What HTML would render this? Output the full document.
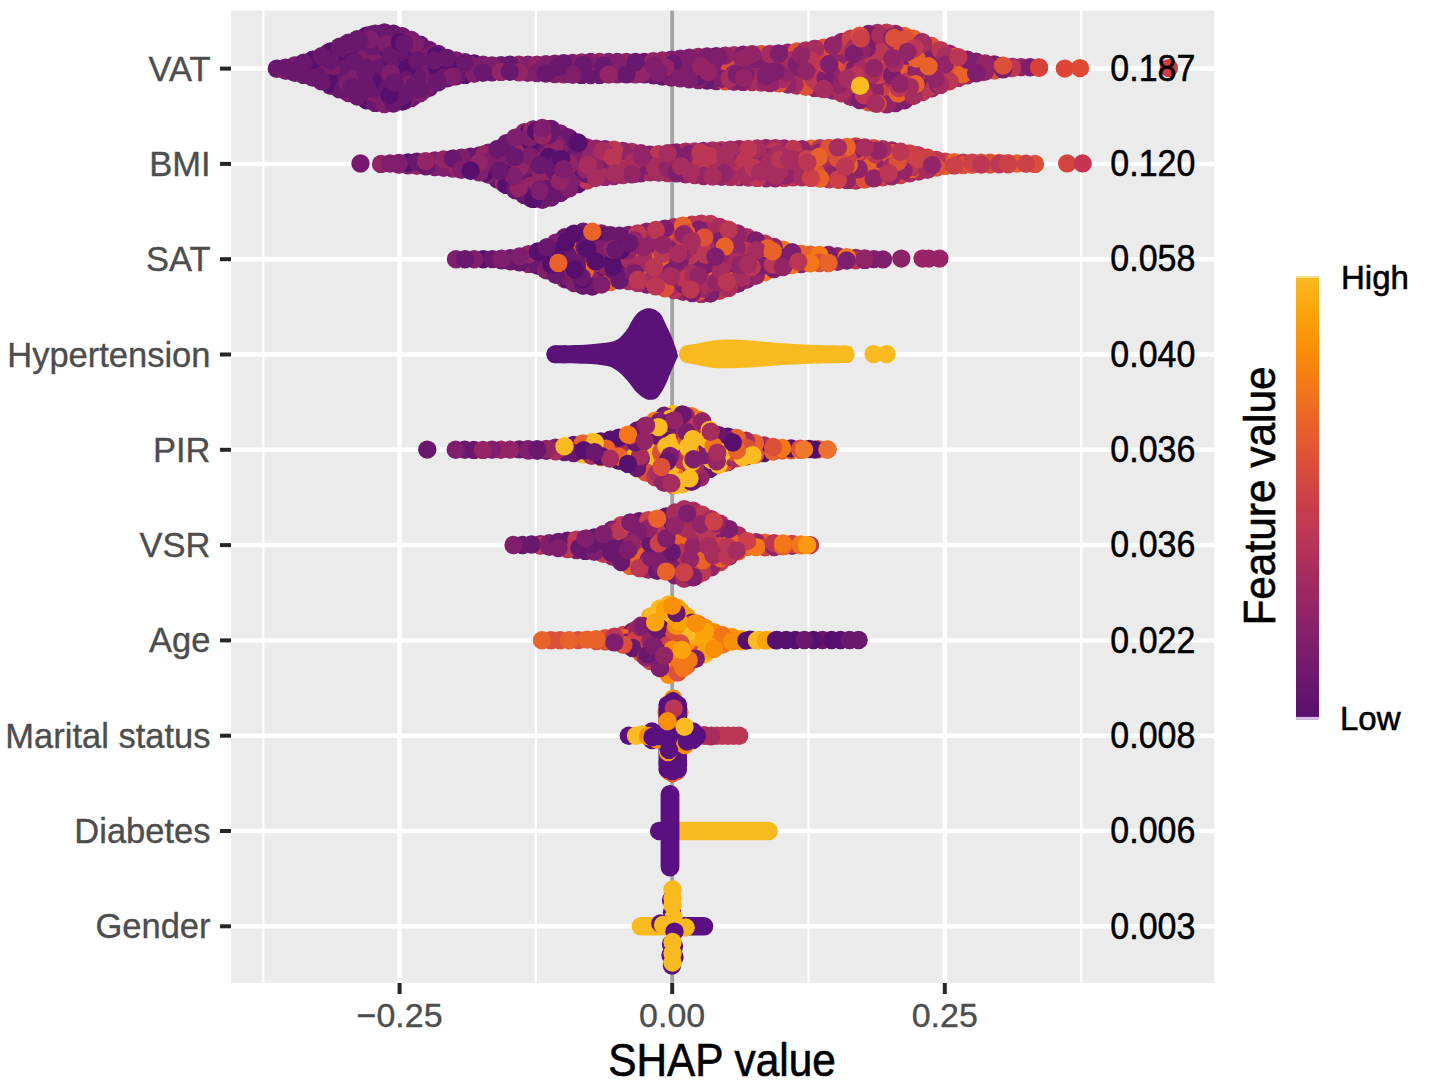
<!DOCTYPE html><html><head><meta charset="utf-8"><style>
html,body{margin:0;padding:0;background:#fff}
svg{display:block}
text{font-family:"Liberation Sans",sans-serif}
.yl{font-size:34.5px;fill:#4D4D4D;text-anchor:end;stroke:#4D4D4D;stroke-width:0.35px}
.vl{font-size:34px;fill:#000;stroke:#000;stroke-width:0.5px}
.xl{font-size:34px;fill:#4D4D4D;text-anchor:middle;stroke:#4D4D4D;stroke-width:0.35px}
.lg{font-size:33px;fill:#000;stroke:#000;stroke-width:0.6px}
.tt{font-size:42.4px;fill:#000;stroke:#000;stroke-width:0.6px}
.c0{fill:#932567}.c1{fill:#6A176E}.c2{fill:#7E1E6C}.c3{fill:#A72D5F}.c4{fill:#570F6D}.c5{fill:#DC5039}.c6{fill:#E9622A}.c7{fill:#BB3754}.c8{fill:#CC4148}.c9{fill:#DE4537}.c10{fill:#E04A35}.c11{fill:#D8403A}.c12{fill:#F9BC21}.c13{fill:#D63A45}.c14{fill:#76196E}.c15{fill:#D5433F}.c16{fill:#C93352}.c17{fill:#F37719}.c18{fill:#8B2369}.c19{fill:#9A2368}.c20{fill:#97246A}.c21{fill:#F9BB21}.c22{fill:#F0782A}.c23{fill:#EE7030}.c24{fill:#F98E08}.c25{fill:#F99A12}.c26{fill:#FBA40A}.c27{fill:#F9BA20}.c28{fill:#5A1178}.c29{fill:#5A1080}
</style></head><body>
<svg width="1429" height="1090" viewBox="0 0 1429 1090">
<rect width="1429" height="1090" fill="#fff"/>
<rect x="231.0" y="10.7" width="983.3" height="972.2" fill="#EBEBEB"/>
<line x1="263.3" y1="10.7" x2="263.3" y2="982.9" stroke="#fff" stroke-width="2.2"/><line x1="535.9" y1="10.7" x2="535.9" y2="982.9" stroke="#fff" stroke-width="2.2"/><line x1="808.5" y1="10.7" x2="808.5" y2="982.9" stroke="#fff" stroke-width="2.2"/><line x1="1081.1" y1="10.7" x2="1081.1" y2="982.9" stroke="#fff" stroke-width="2.2"/><line x1="399.6" y1="10.7" x2="399.6" y2="982.9" stroke="#fff" stroke-width="4.5"/><line x1="672.2" y1="10.7" x2="672.2" y2="982.9" stroke="#fff" stroke-width="4.5"/><line x1="944.8" y1="10.7" x2="944.8" y2="982.9" stroke="#fff" stroke-width="4.5"/><line x1="231.0" y1="68.6" x2="1214.3" y2="68.6" stroke="#fff" stroke-width="4.5"/><line x1="231.0" y1="163.9" x2="1214.3" y2="163.9" stroke="#fff" stroke-width="4.5"/><line x1="231.0" y1="259.2" x2="1214.3" y2="259.2" stroke="#fff" stroke-width="4.5"/><line x1="231.0" y1="354.5" x2="1214.3" y2="354.5" stroke="#fff" stroke-width="4.5"/><line x1="231.0" y1="449.8" x2="1214.3" y2="449.8" stroke="#fff" stroke-width="4.5"/><line x1="231.0" y1="545.1" x2="1214.3" y2="545.1" stroke="#fff" stroke-width="4.5"/><line x1="231.0" y1="640.4" x2="1214.3" y2="640.4" stroke="#fff" stroke-width="4.5"/><line x1="231.0" y1="735.7" x2="1214.3" y2="735.7" stroke="#fff" stroke-width="4.5"/><line x1="231.0" y1="831.0" x2="1214.3" y2="831.0" stroke="#fff" stroke-width="4.5"/><line x1="231.0" y1="926.3" x2="1214.3" y2="926.3" stroke="#fff" stroke-width="4.5"/>
<line x1="672.2" y1="10.7" x2="672.2" y2="982.9" stroke="#A3A3A3" stroke-width="4"/>
<path fill="#7A1D6E" d="M276.8 62.0 L289.5 60.4 L302.2 56.5 L314.9 52.2 L327.6 46.5 L340.3 39.8 L353.0 34.2 L365.7 29.2 L378.4 26.3 L391.1 26.5 L403.8 30.2 L416.5 35.8 L429.2 43.3 L441.9 49.0 L454.6 53.4 L467.4 55.8 L480.1 57.6 L492.8 58.8 L505.5 58.1 L518.2 58.1 L530.9 58.1 L543.6 57.6 L556.3 57.0 L569.0 56.4 L581.7 55.7 L594.4 55.3 L607.1 55.3 L619.8 55.3 L632.5 55.3 L645.2 55.3 L657.9 54.2 L670.6 52.9 L683.3 51.7 L696.0 50.4 L708.7 49.8 L721.4 49.1 L734.1 48.5 L746.8 47.9 L759.5 47.4 L772.2 47.1 L784.9 46.3 L797.6 44.7 L810.3 43.0 L823.0 41.0 L835.7 37.6 L848.5 32.7 L861.2 28.8 L873.9 26.5 L886.6 26.0 L899.3 27.9 L912.0 31.6 L924.7 36.5 L937.4 42.0 L950.1 47.3 L962.8 51.7 L975.5 55.0 L988.2 57.1 L1000.9 58.5 L1013.6 60.2 L1026.3 60.5 L1039.0 61.1 L1039.0 74.6 L1026.3 74.6 L1013.6 74.8 L1000.9 76.5 L988.2 77.9 L975.5 80.0 L962.8 83.3 L950.1 87.7 L937.4 92.8 L924.7 97.8 L912.0 103.1 L899.3 109.2 L886.6 111.1 L873.9 110.0 L861.2 107.1 L848.5 102.5 L835.7 98.2 L823.0 95.6 L810.3 94.0 L797.6 92.4 L784.9 90.8 L772.2 89.8 L759.5 89.2 L746.8 88.7 L734.1 88.4 L721.4 88.0 L708.7 87.3 L696.0 86.7 L683.3 85.4 L670.6 84.2 L657.9 82.6 L645.2 81.1 L632.5 81.1 L619.8 81.1 L607.1 81.4 L594.4 81.7 L581.7 81.6 L569.0 81.3 L556.3 80.8 L543.6 80.2 L530.9 79.5 L518.2 78.9 L505.5 78.3 L492.8 79.0 L480.1 79.6 L467.4 81.3 L454.6 83.2 L441.9 86.7 L429.2 94.4 L416.5 102.0 L403.8 107.6 L391.1 110.6 L378.4 110.0 L365.7 106.6 L353.0 101.5 L340.3 96.4 L327.6 91.1 L314.9 85.0 L302.2 81.2 L289.5 78.3 L276.8 75.5 Z"/><path fill="#932567" d="M381.0 157.3 L391.9 156.7 L402.8 156.1 L413.7 155.3 L424.6 154.5 L435.5 153.7 L446.4 152.6 L457.3 151.5 L468.2 150.2 L479.1 148.7 L490.0 145.4 L500.9 140.1 L511.8 133.0 L522.7 126.5 L533.6 122.7 L544.5 121.4 L555.4 124.4 L566.3 129.8 L577.2 135.3 L588.1 141.4 L599.0 142.2 L609.9 142.6 L620.8 143.9 L631.7 145.3 L642.6 146.8 L653.5 148.1 L664.4 147.0 L675.3 145.9 L686.2 145.1 L697.1 144.5 L708.0 144.0 L718.9 143.5 L729.8 143.0 L740.7 142.6 L751.6 142.1 L762.5 141.6 L773.4 141.3 L784.3 141.8 L795.2 142.4 L806.1 142.3 L817.0 141.8 L827.9 141.2 L838.8 140.7 L849.7 140.1 L860.6 140.3 L871.5 141.3 L882.4 142.4 L893.3 143.9 L904.2 145.7 L915.1 148.0 L926.0 150.7 L936.9 153.4 L947.8 155.1 L958.7 155.8 L969.6 156.1 L980.5 156.1 L991.4 156.1 L1002.3 156.4 L1013.2 156.7 L1024.1 156.9 L1035.0 157.2 L1035.0 170.6 L1024.1 170.7 L1013.2 170.9 L1002.3 171.0 L991.4 171.1 L980.5 171.3 L969.6 171.4 L958.7 172.0 L947.8 172.5 L936.9 174.1 L926.0 176.7 L915.1 178.9 L904.2 181.1 L893.3 182.7 L882.4 184.0 L871.5 185.4 L860.6 186.7 L849.7 187.0 L838.8 186.4 L827.9 185.9 L817.0 185.1 L806.1 184.3 L795.2 184.0 L784.3 184.6 L773.4 185.1 L762.5 184.8 L751.6 184.3 L740.7 183.8 L729.8 183.6 L718.9 183.3 L708.0 183.1 L697.1 182.0 L686.2 180.9 L675.3 180.1 L664.4 179.5 L653.5 179.0 L642.6 179.8 L631.7 180.9 L620.8 182.0 L609.9 183.1 L599.0 184.2 L588.1 186.9 L577.2 191.1 L566.3 196.6 L555.4 202.0 L544.5 206.8 L533.6 205.7 L522.7 200.9 L511.8 194.8 L500.9 188.2 L490.0 181.7 L479.1 179.0 L468.2 177.2 L457.3 175.9 L446.4 174.6 L435.5 173.8 L424.6 172.9 L413.7 172.3 L402.8 171.7 L391.9 171.1 L381.0 170.5 Z"/><path fill="#7E1E6C" d="M456.0 253.0 L463.1 252.9 L470.2 252.8 L477.4 252.6 L484.5 252.5 L491.6 252.4 L498.7 252.2 L505.8 251.8 L512.9 251.0 L520.0 249.6 L527.2 247.8 L534.3 245.7 L541.4 243.1 L548.5 239.9 L555.6 236.1 L562.8 231.8 L569.9 228.5 L577.0 226.1 L584.1 225.0 L591.2 225.0 L598.3 226.1 L605.5 227.9 L612.6 228.7 L619.7 229.1 L626.8 228.5 L633.9 227.3 L641.0 226.2 L648.1 224.8 L655.3 223.4 L662.4 222.2 L669.5 221.2 L676.6 220.1 L683.7 219.0 L690.9 218.1 L698.0 217.3 L705.1 216.4 L712.2 217.9 L719.3 220.1 L726.4 222.4 L733.5 225.1 L740.7 228.0 L747.8 230.8 L754.9 233.5 L762.0 236.1 L769.1 238.7 L776.2 240.9 L783.4 243.0 L790.5 245.1 L797.6 246.6 L804.7 248.0 L811.8 248.1 L819.0 248.2 L826.1 248.2 L833.2 248.7 L840.3 249.8 L847.4 250.7 L854.5 251.1 L861.6 251.6 L868.8 252.1 L875.9 252.6 L883.0 252.7 L883.0 266.2 L875.9 266.3 L868.8 266.5 L861.6 266.7 L854.5 267.0 L847.4 267.2 L840.3 268.1 L833.2 269.2 L826.1 269.7 L819.0 269.7 L811.8 269.7 L804.7 270.4 L797.6 271.1 L790.5 271.9 L783.4 273.6 L776.2 275.2 L769.1 277.0 L762.0 279.9 L754.9 282.7 L747.8 285.7 L740.7 289.0 L733.5 292.3 L726.4 295.4 L719.3 297.5 L712.2 299.6 L705.1 301.0 L698.0 300.3 L690.9 299.6 L683.7 298.6 L676.6 297.2 L669.5 295.8 L662.4 294.4 L655.3 293.0 L648.1 291.6 L641.0 290.2 L633.9 288.8 L626.8 287.4 L619.7 287.0 L612.6 288.4 L605.5 290.1 L598.3 292.2 L591.2 293.2 L584.1 292.5 L577.0 290.9 L569.9 288.0 L562.8 284.9 L555.6 281.3 L548.5 277.8 L541.4 274.2 L534.3 271.8 L527.2 270.3 L520.0 269.2 L512.9 268.3 L505.8 267.4 L498.7 266.5 L491.6 266.1 L484.5 266.0 L477.4 265.9 L470.2 265.7 L463.1 265.6 L456.0 265.5 Z"/><path fill="#7E1E6C" d="M455.7 443.4 L461.9 443.3 L468.1 443.3 L474.3 443.2 L480.5 443.2 L486.7 443.1 L492.9 443.1 L499.1 443.0 L505.3 443.0 L511.5 442.9 L517.7 442.8 L523.9 442.7 L530.1 442.6 L536.3 442.5 L542.5 442.4 L548.6 441.9 L554.8 441.0 L561.0 440.0 L567.2 439.1 L573.4 438.2 L579.6 437.3 L585.8 436.3 L592.0 435.6 L598.2 435.0 L604.4 434.2 L610.6 433.0 L616.8 431.5 L623.0 429.9 L629.2 427.4 L635.4 424.6 L641.6 421.4 L647.8 418.0 L654.0 414.6 L660.2 411.2 L666.4 408.0 L672.6 407.7 L678.8 407.4 L685.0 408.3 L691.2 409.5 L697.4 411.8 L703.6 414.9 L709.8 423.5 L716.0 428.1 L722.2 429.0 L728.4 430.0 L734.5 430.9 L740.7 432.5 L746.9 434.4 L753.1 436.1 L759.3 437.6 L765.5 439.0 L771.7 440.0 L777.9 440.9 L784.1 441.4 L790.3 441.8 L796.5 442.0 L802.7 442.1 L808.9 442.3 L815.1 442.4 L821.3 442.6 L827.5 442.8 L827.5 456.3 L821.3 456.3 L815.1 456.2 L808.9 456.2 L802.7 456.5 L796.5 456.7 L790.3 457.0 L784.1 457.3 L777.9 457.5 L771.7 458.5 L765.5 459.5 L759.3 460.6 L753.1 461.9 L746.9 463.1 L740.7 464.4 L734.5 465.9 L728.4 468.4 L722.2 470.8 L716.0 471.7 L709.8 475.4 L703.6 482.8 L697.4 485.7 L691.2 488.6 L685.0 490.7 L678.8 491.3 L672.6 491.8 L666.4 490.6 L660.2 487.0 L654.0 483.3 L647.8 480.0 L641.6 476.9 L635.4 473.9 L629.2 471.1 L623.0 468.6 L616.8 467.0 L610.6 465.5 L604.4 464.3 L598.2 463.3 L592.0 462.4 L585.8 461.5 L579.6 460.5 L573.4 459.6 L567.2 459.0 L561.0 458.4 L554.8 458.0 L548.6 457.7 L542.5 457.4 L536.3 457.4 L530.1 457.3 L523.9 457.2 L517.7 457.1 L511.5 457.0 L505.3 456.9 L499.1 456.8 L492.9 456.7 L486.7 456.6 L480.5 456.6 L474.3 456.5 L468.1 456.4 L461.9 456.3 L455.7 456.2 Z"/><path fill="#7E1E6C" d="M513.5 538.7 L518.4 538.5 L523.4 538.2 L528.3 538.0 L533.3 537.7 L538.2 537.5 L543.1 537.2 L548.1 536.5 L553.0 535.9 L558.0 535.3 L562.9 534.7 L567.9 534.1 L572.8 533.5 L577.7 532.8 L582.7 532.2 L587.6 531.6 L592.6 531.0 L597.5 530.4 L602.5 528.1 L607.4 525.6 L612.3 523.1 L617.3 520.7 L622.2 518.2 L627.2 516.2 L632.1 515.5 L637.0 514.9 L642.0 514.3 L646.9 513.7 L651.9 513.1 L656.8 512.1 L661.8 510.9 L666.7 509.6 L671.6 507.5 L676.6 505.0 L681.5 502.5 L686.5 502.7 L691.4 503.2 L696.3 505.4 L701.3 507.7 L706.2 510.1 L711.2 512.6 L716.1 515.1 L721.0 517.5 L726.0 520.2 L730.9 523.7 L735.9 527.1 L740.8 530.3 L745.8 533.6 L750.7 534.8 L755.6 535.3 L760.6 535.7 L765.5 535.9 L770.5 536.2 L775.4 536.4 L780.4 536.7 L785.3 536.9 L790.2 537.2 L795.2 537.4 L800.1 537.6 L805.1 538.0 L810.0 538.4 L810.0 551.8 L805.1 552.0 L800.1 552.2 L795.2 552.4 L790.2 552.6 L785.3 553.0 L780.4 553.3 L775.4 553.7 L770.5 554.0 L765.5 554.0 L760.6 553.9 L755.6 553.8 L750.7 553.7 L745.8 554.3 L740.8 556.8 L735.9 559.3 L730.9 562.2 L726.0 565.2 L721.0 568.1 L716.1 571.1 L711.2 574.1 L706.2 577.0 L701.3 579.9 L696.3 582.3 L691.4 584.8 L686.5 585.2 L681.5 585.3 L676.6 582.8 L671.6 580.3 L666.7 578.4 L661.8 577.9 L656.8 577.4 L651.9 576.8 L646.9 576.0 L642.0 575.3 L637.0 574.3 L632.1 573.0 L627.2 571.8 L622.2 569.2 L617.3 566.3 L612.3 563.3 L607.4 561.7 L602.5 560.2 L597.5 558.9 L592.6 558.4 L587.6 557.9 L582.7 557.4 L577.7 556.9 L572.8 556.4 L567.9 555.8 L562.9 555.2 L558.0 554.6 L553.0 554.0 L548.1 553.4 L543.1 552.7 L538.2 552.4 L533.3 552.2 L528.3 551.9 L523.4 551.7 L518.4 551.4 L513.5 551.2 Z"/><path fill="#B5455A" d="M542.0 634.4 L547.3 634.3 L552.6 634.2 L557.8 634.0 L563.1 633.9 L568.4 633.8 L573.7 633.6 L578.9 633.4 L584.2 633.1 L589.5 632.8 L594.8 632.6 L600.0 632.3 L605.3 631.5 L610.6 630.7 L615.9 629.8 L621.1 628.8 L626.4 627.7 L631.7 625.3 L637.0 622.3 L642.3 618.0 L647.5 612.8 L652.8 608.0 L658.1 603.3 L663.4 600.1 L668.6 597.8 L673.9 598.6 L679.2 602.7 L684.5 607.6 L689.7 612.8 L695.0 616.1 L700.3 618.8 L705.6 621.4 L710.9 624.0 L716.1 626.7 L721.4 628.6 L726.7 629.6 L732.0 630.6 L737.2 631.7 L742.5 632.7 L747.8 633.0 L753.1 633.2 L758.3 633.5 L763.6 633.7 L768.9 633.8 L774.2 633.8 L779.5 633.8 L784.7 633.8 L790.0 633.8 L795.3 633.8 L800.6 633.8 L805.8 633.8 L811.1 633.8 L816.4 633.8 L821.7 633.8 L826.9 633.8 L832.2 633.8 L837.5 633.8 L842.8 633.8 L848.0 633.8 L853.3 633.8 L858.6 633.8 L858.6 646.2 L853.3 646.2 L848.0 646.2 L842.8 646.2 L837.5 646.2 L832.2 646.2 L826.9 646.2 L821.7 646.2 L816.4 646.2 L811.1 646.2 L805.8 646.2 L800.6 646.2 L795.3 646.2 L790.0 646.2 L784.7 646.2 L779.5 646.2 L774.2 646.2 L768.9 646.2 L763.6 646.3 L758.3 646.7 L753.1 647.0 L747.8 647.4 L742.5 647.8 L737.2 648.0 L732.0 648.2 L726.7 649.6 L721.4 651.6 L716.1 654.2 L710.9 657.4 L705.6 660.6 L700.3 663.2 L695.0 665.9 L689.7 669.2 L684.5 674.4 L679.2 678.6 L673.9 680.9 L668.6 681.5 L663.4 677.4 L658.1 673.3 L652.8 669.4 L647.5 665.2 L642.3 660.7 L637.0 657.0 L631.7 654.4 L626.4 652.1 L621.1 650.8 L615.9 649.5 L610.6 648.7 L605.3 648.3 L600.0 648.0 L594.8 647.6 L589.5 647.2 L584.2 646.9 L578.9 646.8 L573.7 646.7 L568.4 646.6 L563.1 646.5 L557.8 646.5 L552.6 646.4 L547.3 646.3 L542.0 646.2 Z"/>
<g><circle class="c0" cx="807.6" cy="77.9" r="9.2"/><circle class="c1" cx="334.9" cy="57.4" r="9.2"/><circle class="c0" cx="626.5" cy="62.0" r="9.2"/><circle class="c2" cx="753.9" cy="64.0" r="9.2"/><circle class="c2" cx="928.5" cy="50.3" r="9.2"/><circle class="c0" cx="836.0" cy="74.0" r="9.2"/><circle class="c2" cx="609.8" cy="63.9" r="9.2"/><circle class="c2" cx="964.3" cy="63.3" r="9.2"/><circle class="c0" cx="787.9" cy="52.6" r="9.2"/><circle class="c3" cx="938.9" cy="74.3" r="9.2"/><circle class="c2" cx="681.4" cy="75.6" r="9.2"/><circle class="c0" cx="684.8" cy="66.4" r="9.2"/><circle class="c2" cx="401.6" cy="57.0" r="9.2"/><circle class="c2" cx="968.6" cy="69.1" r="9.2"/><circle class="c4" cx="326.7" cy="54.6" r="9.2"/><circle class="c1" cx="626.2" cy="72.2" r="9.2"/><circle class="c1" cx="332.9" cy="58.0" r="9.2"/><circle class="c1" cx="349.6" cy="68.2" r="9.2"/><circle class="c1" cx="337.0" cy="74.2" r="9.2"/><circle class="c2" cx="896.7" cy="47.6" r="9.2"/><circle class="c1" cx="447.2" cy="78.2" r="9.2"/><circle class="c4" cx="379.3" cy="34.5" r="9.2"/><circle class="c1" cx="599.6" cy="74.9" r="9.2"/><circle class="c4" cx="429.9" cy="53.5" r="9.2"/><circle class="c5" cx="939.2" cy="52.8" r="9.2"/><circle class="c4" cx="366.5" cy="100.2" r="9.2"/><circle class="c2" cx="933.7" cy="70.5" r="9.2"/><circle class="c1" cx="368.9" cy="36.5" r="9.2"/><circle class="c0" cx="785.7" cy="61.8" r="9.2"/><circle class="c0" cx="841.7" cy="41.9" r="9.2"/><circle class="c2" cx="716.2" cy="81.0" r="9.2"/><circle class="c6" cx="902.6" cy="38.0" r="9.2"/><circle class="c0" cx="710.9" cy="73.1" r="9.2"/><circle class="c0" cx="949.3" cy="53.7" r="9.2"/><circle class="c2" cx="661.5" cy="73.6" r="9.2"/><circle class="c6" cx="901.6" cy="44.7" r="9.2"/><circle class="c0" cx="762.6" cy="55.3" r="9.2"/><circle class="c3" cx="796.9" cy="85.6" r="9.2"/><circle class="c1" cx="416.4" cy="84.5" r="9.2"/><circle class="c1" cx="398.1" cy="94.2" r="9.2"/><circle class="c0" cx="851.3" cy="43.7" r="9.2"/><circle class="c1" cx="644.4" cy="74.4" r="9.2"/><circle class="c0" cx="840.2" cy="83.4" r="9.2"/><circle class="c1" cx="355.4" cy="88.7" r="9.2"/><circle class="c2" cx="424.3" cy="50.6" r="9.2"/><circle class="c7" cx="818.3" cy="60.4" r="9.2"/><circle class="c2" cx="918.6" cy="74.9" r="9.2"/><circle class="c1" cx="343.6" cy="88.4" r="9.2"/><circle class="c0" cx="783.0" cy="61.0" r="9.2"/><circle class="c2" cx="994.2" cy="64.4" r="9.2"/><circle class="c1" cx="579.2" cy="69.7" r="9.2"/><circle class="c0" cx="690.1" cy="71.8" r="9.2"/><circle class="c7" cx="839.7" cy="65.8" r="9.2"/><circle class="c3" cx="907.7" cy="72.4" r="9.2"/><circle class="c0" cx="803.3" cy="69.6" r="9.2"/><circle class="c3" cx="958.3" cy="77.9" r="9.2"/><circle class="c7" cx="922.4" cy="92.0" r="9.2"/><circle class="c0" cx="923.2" cy="58.8" r="9.2"/><circle class="c7" cx="940.0" cy="80.8" r="9.2"/><circle class="c1" cx="380.1" cy="55.6" r="9.2"/><circle class="c1" cx="315.4" cy="71.4" r="9.2"/><circle class="c1" cx="424.6" cy="89.5" r="9.2"/><circle class="c0" cx="847.8" cy="67.9" r="9.2"/><circle class="c2" cx="335.3" cy="65.9" r="9.2"/><circle class="c1" cx="413.8" cy="72.7" r="9.2"/><circle class="c3" cx="734.1" cy="55.2" r="9.2"/><circle class="c1" cx="364.5" cy="91.5" r="9.2"/><circle class="c1" cx="386.8" cy="43.0" r="9.2"/><circle class="c5" cx="872.5" cy="41.7" r="9.2"/><circle class="c1" cx="385.2" cy="81.1" r="9.2"/><circle class="c7" cx="855.8" cy="90.9" r="9.2"/><circle class="c3" cx="929.5" cy="51.0" r="9.2"/><circle class="c3" cx="877.6" cy="33.0" r="9.2"/><circle class="c0" cx="895.5" cy="83.4" r="9.2"/><circle class="c1" cx="644.4" cy="62.0" r="9.2"/><circle class="c1" cx="422.3" cy="52.7" r="9.2"/><circle class="c1" cx="384.4" cy="32.5" r="9.2"/><circle class="c2" cx="301.6" cy="72.1" r="9.2"/><circle class="c2" cx="294.7" cy="65.4" r="9.2"/><circle class="c0" cx="794.9" cy="77.6" r="9.2"/><circle class="c0" cx="518.9" cy="64.8" r="9.2"/><circle class="c1" cx="404.7" cy="94.0" r="9.2"/><circle class="c0" cx="868.3" cy="50.6" r="9.2"/><circle class="c1" cx="364.1" cy="72.5" r="9.2"/><circle class="c2" cx="348.5" cy="93.0" r="9.2"/><circle class="c1" cx="429.2" cy="87.7" r="9.2"/><circle class="c1" cx="345.1" cy="58.9" r="9.2"/><circle class="c1" cx="423.0" cy="49.5" r="9.2"/><circle class="c5" cx="932.6" cy="77.3" r="9.2"/><circle class="c3" cx="902.2" cy="59.7" r="9.2"/><circle class="c0" cx="770.2" cy="58.6" r="9.2"/><circle class="c1" cx="398.0" cy="90.9" r="9.2"/><circle class="c7" cx="888.0" cy="92.9" r="9.2"/><circle class="c0" cx="846.0" cy="68.1" r="9.2"/><circle class="c1" cx="373.8" cy="45.3" r="9.2"/><circle class="c2" cx="953.1" cy="76.5" r="9.2"/><circle class="c0" cx="653.4" cy="61.3" r="9.2"/><circle class="c7" cx="837.3" cy="88.3" r="9.2"/><circle class="c0" cx="893.0" cy="77.9" r="9.2"/><circle class="c0" cx="932.0" cy="85.8" r="9.2"/><circle class="c1" cx="377.5" cy="62.6" r="9.2"/><circle class="c1" cx="578.5" cy="65.4" r="9.2"/><circle class="c1" cx="662.4" cy="76.5" r="9.2"/><circle class="c5" cx="725.2" cy="81.4" r="9.2"/><circle class="c3" cx="929.1" cy="46.5" r="9.2"/><circle class="c1" cx="653.4" cy="75.3" r="9.2"/><circle class="c5" cx="761.0" cy="54.1" r="9.2"/><circle class="c4" cx="465.1" cy="74.9" r="9.2"/><circle class="c1" cx="420.3" cy="44.8" r="9.2"/><circle class="c1" cx="330.6" cy="85.8" r="9.2"/><circle class="c2" cx="834.0" cy="74.0" r="9.2"/><circle class="c2" cx="674.3" cy="72.5" r="9.2"/><circle class="c0" cx="883.2" cy="36.8" r="9.2"/><circle class="c1" cx="375.4" cy="102.9" r="9.2"/><circle class="c1" cx="409.3" cy="52.7" r="9.2"/><circle class="c0" cx="931.4" cy="88.4" r="9.2"/><circle class="c1" cx="501.0" cy="65.1" r="9.2"/><circle class="c2" cx="797.5" cy="68.2" r="9.2"/><circle class="c0" cx="912.2" cy="68.3" r="9.2"/><circle class="c1" cx="383.2" cy="75.6" r="9.2"/><circle class="c0" cx="775.5" cy="57.5" r="9.2"/><circle class="c0" cx="751.3" cy="73.2" r="9.2"/><circle class="c1" cx="412.3" cy="47.9" r="9.2"/><circle class="c1" cx="693.1" cy="60.0" r="9.2"/><circle class="c4" cx="376.0" cy="44.7" r="9.2"/><circle class="c0" cx="821.0" cy="88.2" r="9.2"/><circle class="c2" cx="370.9" cy="76.0" r="9.2"/><circle class="c0" cx="832.8" cy="90.6" r="9.2"/><circle class="c0" cx="837.2" cy="60.3" r="9.2"/><circle class="c3" cx="868.2" cy="43.7" r="9.2"/><circle class="c0" cx="718.3" cy="66.3" r="9.2"/><circle class="c4" cx="371.9" cy="57.5" r="9.2"/><circle class="c0" cx="883.2" cy="61.3" r="9.2"/><circle class="c5" cx="868.6" cy="102.3" r="9.2"/><circle class="c0" cx="632.4" cy="63.3" r="9.2"/><circle class="c2" cx="362.7" cy="53.7" r="9.2"/><circle class="c2" cx="671.4" cy="59.6" r="9.2"/><circle class="c8" cx="820.5" cy="82.0" r="9.2"/><circle class="c4" cx="338.3" cy="51.9" r="9.2"/><circle class="c1" cx="707.2" cy="80.6" r="9.2"/><circle class="c3" cx="752.1" cy="82.1" r="9.2"/><circle class="c0" cx="861.3" cy="98.8" r="9.2"/><circle class="c1" cx="339.6" cy="89.4" r="9.2"/><circle class="c7" cx="876.7" cy="86.7" r="9.2"/><circle class="c3" cx="842.7" cy="78.1" r="9.2"/><circle class="c4" cx="329.7" cy="83.8" r="9.2"/><circle class="c2" cx="635.5" cy="74.4" r="9.2"/><circle class="c7" cx="832.5" cy="67.9" r="9.2"/><circle class="c2" cx="682.2" cy="69.5" r="9.2"/><circle class="c1" cx="394.0" cy="95.9" r="9.2"/><circle class="c1" cx="461.7" cy="65.1" r="9.2"/><circle class="c4" cx="340.3" cy="82.6" r="9.2"/><circle class="c0" cx="737.6" cy="65.0" r="9.2"/><circle class="c2" cx="554.8" cy="63.8" r="9.2"/><circle class="c2" cx="427.9" cy="84.0" r="9.2"/><circle class="c1" cx="638.1" cy="73.1" r="9.2"/><circle class="c5" cx="994.2" cy="70.6" r="9.2"/><circle class="c5" cx="931.4" cy="46.0" r="9.2"/><circle class="c1" cx="349.2" cy="51.4" r="9.2"/><circle class="c6" cx="913.5" cy="38.7" r="9.2"/><circle class="c7" cx="845.7" cy="51.2" r="9.2"/><circle class="c6" cx="893.8" cy="75.9" r="9.2"/><circle class="c1" cx="389.1" cy="48.3" r="9.2"/><circle class="c1" cx="438.2" cy="54.0" r="9.2"/><circle class="c0" cx="842.5" cy="63.4" r="9.2"/><circle class="c0" cx="778.0" cy="53.6" r="9.2"/><circle class="c3" cx="855.6" cy="80.4" r="9.2"/><circle class="c1" cx="276.8" cy="68.7" r="9.2"/><circle class="c0" cx="1021.1" cy="67.1" r="9.2"/><circle class="c5" cx="913.1" cy="87.1" r="9.2"/><circle class="c0" cx="814.8" cy="87.9" r="9.2"/><circle class="c1" cx="682.0" cy="63.5" r="9.2"/><circle class="c7" cx="872.9" cy="45.0" r="9.2"/><circle class="c5" cx="805.9" cy="86.7" r="9.2"/><circle class="c2" cx="976.2" cy="61.8" r="9.2"/><circle class="c1" cx="352.3" cy="69.0" r="9.2"/><circle class="c0" cx="743.1" cy="81.9" r="9.2"/><circle class="c2" cx="698.3" cy="80.1" r="9.2"/><circle class="c3" cx="832.4" cy="71.9" r="9.2"/><circle class="c3" cx="761.0" cy="82.6" r="9.2"/><circle class="c1" cx="376.9" cy="41.2" r="9.2"/><circle class="c4" cx="352.8" cy="61.1" r="9.2"/><circle class="c1" cx="388.5" cy="85.9" r="9.2"/><circle class="c2" cx="374.0" cy="92.7" r="9.2"/><circle class="c2" cx="771.2" cy="77.3" r="9.2"/><circle class="c2" cx="904.2" cy="61.4" r="9.2"/><circle class="c1" cx="447.5" cy="77.5" r="9.2"/><circle class="c4" cx="405.4" cy="59.1" r="9.2"/><circle class="c2" cx="365.4" cy="58.7" r="9.2"/><circle class="c0" cx="811.8" cy="66.3" r="9.2"/><circle class="c1" cx="345.8" cy="83.4" r="9.2"/><circle class="c1" cx="390.0" cy="61.0" r="9.2"/><circle class="c5" cx="909.8" cy="57.5" r="9.2"/><circle class="c0" cx="974.7" cy="69.6" r="9.2"/><circle class="c0" cx="1012.1" cy="66.9" r="9.2"/><circle class="c2" cx="374.4" cy="51.9" r="9.2"/><circle class="c1" cx="307.8" cy="68.8" r="9.2"/><circle class="c0" cx="759.5" cy="77.0" r="9.2"/><circle class="c1" cx="386.1" cy="48.5" r="9.2"/><circle class="c0" cx="910.8" cy="76.4" r="9.2"/><circle class="c1" cx="414.2" cy="46.7" r="9.2"/><circle class="c1" cx="411.3" cy="97.9" r="9.2"/><circle class="c2" cx="398.3" cy="55.0" r="9.2"/><circle class="c0" cx="866.8" cy="46.5" r="9.2"/><circle class="c1" cx="716.2" cy="56.1" r="9.2"/><circle class="c1" cx="349.1" cy="67.3" r="9.2"/><circle class="c1" cx="366.7" cy="68.3" r="9.2"/><circle class="c1" cx="415.3" cy="95.0" r="9.2"/><circle class="c7" cx="981.5" cy="72.1" r="9.2"/><circle class="c0" cx="698.3" cy="57.0" r="9.2"/><circle class="c5" cx="959.6" cy="60.3" r="9.2"/><circle class="c2" cx="346.5" cy="44.4" r="9.2"/><circle class="c1" cx="373.5" cy="86.0" r="9.2"/><circle class="c0" cx="969.1" cy="73.0" r="9.2"/><circle class="c2" cx="527.9" cy="64.8" r="9.2"/><circle class="c2" cx="790.6" cy="61.2" r="9.2"/><circle class="c2" cx="919.0" cy="56.8" r="9.2"/><circle class="c1" cx="438.2" cy="82.3" r="9.2"/><circle class="c1" cx="374.1" cy="88.4" r="9.2"/><circle class="c4" cx="366.5" cy="35.8" r="9.2"/><circle class="c1" cx="423.4" cy="58.3" r="9.2"/><circle class="c1" cx="429.2" cy="50.0" r="9.2"/><circle class="c7" cx="897.5" cy="90.0" r="9.2"/><circle class="c3" cx="863.0" cy="69.8" r="9.2"/><circle class="c3" cx="948.0" cy="56.7" r="9.2"/><circle class="c0" cx="985.2" cy="71.5" r="9.2"/><circle class="c2" cx="312.7" cy="59.8" r="9.2"/><circle class="c5" cx="902.1" cy="51.6" r="9.2"/><circle class="c2" cx="323.8" cy="67.5" r="9.2"/><circle class="c0" cx="874.4" cy="39.8" r="9.2"/><circle class="c4" cx="407.7" cy="46.1" r="9.2"/><circle class="c8" cx="875.4" cy="97.8" r="9.2"/><circle class="c2" cx="552.6" cy="70.4" r="9.2"/><circle class="c7" cx="846.2" cy="89.3" r="9.2"/><circle class="c1" cx="379.9" cy="83.1" r="9.2"/><circle class="c0" cx="723.6" cy="62.8" r="9.2"/><circle class="c1" cx="392.7" cy="101.9" r="9.2"/><circle class="c3" cx="774.5" cy="57.2" r="9.2"/><circle class="c1" cx="357.5" cy="39.1" r="9.2"/><circle class="c0" cx="865.4" cy="41.6" r="9.2"/><circle class="c5" cx="898.6" cy="69.9" r="9.2"/><circle class="c0" cx="859.7" cy="74.9" r="9.2"/><circle class="c2" cx="328.3" cy="52.8" r="9.2"/><circle class="c3" cx="820.2" cy="72.3" r="9.2"/><circle class="c5" cx="878.7" cy="55.6" r="9.2"/><circle class="c5" cx="823.8" cy="47.6" r="9.2"/><circle class="c0" cx="581.7" cy="62.4" r="9.2"/><circle class="c8" cx="851.6" cy="69.1" r="9.2"/><circle class="c1" cx="377.7" cy="68.9" r="9.2"/><circle class="c0" cx="859.9" cy="47.2" r="9.2"/><circle class="c7" cx="929.0" cy="87.6" r="9.2"/><circle class="c2" cx="574.2" cy="66.8" r="9.2"/><circle class="c0" cx="933.5" cy="63.4" r="9.2"/><circle class="c6" cx="904.5" cy="36.0" r="9.2"/><circle class="c1" cx="590.6" cy="75.1" r="9.2"/><circle class="c1" cx="372.4" cy="71.0" r="9.2"/><circle class="c7" cx="880.2" cy="92.9" r="9.2"/><circle class="c0" cx="891.9" cy="81.8" r="9.2"/><circle class="c2" cx="680.3" cy="58.7" r="9.2"/><circle class="c2" cx="527.9" cy="72.7" r="9.2"/><circle class="c1" cx="402.3" cy="36.3" r="9.2"/><circle class="c1" cx="581.7" cy="74.9" r="9.2"/><circle class="c0" cx="886.5" cy="78.6" r="9.2"/><circle class="c1" cx="458.3" cy="71.3" r="9.2"/><circle class="c0" cx="967.3" cy="75.2" r="9.2"/><circle class="c5" cx="945.2" cy="68.8" r="9.2"/><circle class="c3" cx="853.3" cy="51.8" r="9.2"/><circle class="c1" cx="380.5" cy="34.0" r="9.2"/><circle class="c2" cx="883.6" cy="74.1" r="9.2"/><circle class="c1" cx="362.1" cy="68.0" r="9.2"/><circle class="c2" cx="729.2" cy="59.7" r="9.2"/><circle class="c0" cx="563.7" cy="74.4" r="9.2"/><circle class="c1" cx="330.1" cy="58.9" r="9.2"/><circle class="c0" cx="536.8" cy="64.7" r="9.2"/><circle class="c7" cx="1012.1" cy="68.1" r="9.2"/><circle class="c4" cx="392.4" cy="60.2" r="9.2"/><circle class="c2" cx="792.6" cy="78.0" r="9.2"/><circle class="c2" cx="771.1" cy="66.8" r="9.2"/><circle class="c1" cx="434.0" cy="64.2" r="9.2"/><circle class="c1" cx="492.0" cy="72.3" r="9.2"/><circle class="c2" cx="839.5" cy="75.8" r="9.2"/><circle class="c1" cx="346.2" cy="78.3" r="9.2"/><circle class="c7" cx="874.3" cy="74.9" r="9.2"/><circle class="c2" cx="427.5" cy="58.0" r="9.2"/><circle class="c1" cx="456.1" cy="76.3" r="9.2"/><circle class="c1" cx="348.5" cy="42.8" r="9.2"/><circle class="c4" cx="331.0" cy="60.2" r="9.2"/><circle class="c1" cx="597.5" cy="63.0" r="9.2"/><circle class="c2" cx="405.3" cy="100.3" r="9.2"/><circle class="c2" cx="692.0" cy="65.2" r="9.2"/><circle class="c8" cx="850.7" cy="38.7" r="9.2"/><circle class="c2" cx="1003.1" cy="69.4" r="9.2"/><circle class="c0" cx="871.8" cy="100.3" r="9.2"/><circle class="c3" cx="794.7" cy="84.4" r="9.2"/><circle class="c2" cx="492.0" cy="65.5" r="9.2"/><circle class="c2" cx="456.1" cy="60.4" r="9.2"/><circle class="c2" cx="433.5" cy="54.0" r="9.2"/><circle class="c1" cx="375.4" cy="33.7" r="9.2"/><circle class="c1" cx="416.9" cy="89.6" r="9.2"/><circle class="c2" cx="608.6" cy="62.0" r="9.2"/><circle class="c0" cx="850.7" cy="96.7" r="9.2"/><circle class="c2" cx="536.8" cy="73.1" r="9.2"/><circle class="c1" cx="627.7" cy="71.6" r="9.2"/><circle class="c5" cx="947.5" cy="71.4" r="9.2"/><circle class="c0" cx="634.9" cy="73.4" r="9.2"/><circle class="c2" cx="554.8" cy="74.0" r="9.2"/><circle class="c4" cx="330.6" cy="51.5" r="9.2"/><circle class="c2" cx="935.1" cy="55.3" r="9.2"/><circle class="c1" cx="395.5" cy="64.3" r="9.2"/><circle class="c4" cx="435.7" cy="55.5" r="9.2"/><circle class="c0" cx="895.5" cy="34.0" r="9.2"/><circle class="c2" cx="317.3" cy="75.5" r="9.2"/><circle class="c5" cx="730.2" cy="68.8" r="9.2"/><circle class="c0" cx="787.9" cy="84.5" r="9.2"/><circle class="c4" cx="474.1" cy="63.5" r="9.2"/><circle class="c5" cx="779.0" cy="83.4" r="9.2"/><circle class="c2" cx="922.5" cy="58.2" r="9.2"/><circle class="c2" cx="721.6" cy="78.8" r="9.2"/><circle class="c2" cx="321.6" cy="81.4" r="9.2"/><circle class="c2" cx="285.8" cy="70.8" r="9.2"/><circle class="c5" cx="1039.0" cy="67.8" r="9.2"/><circle class="c5" cx="859.0" cy="86.6" r="9.2"/><circle class="c0" cx="985.2" cy="63.5" r="9.2"/><circle class="c1" cx="415.2" cy="83.9" r="9.2"/><circle class="c4" cx="389.4" cy="51.4" r="9.2"/><circle class="c0" cx="734.1" cy="81.7" r="9.2"/><circle class="c5" cx="836.2" cy="69.9" r="9.2"/><circle class="c2" cx="610.5" cy="71.9" r="9.2"/><circle class="c7" cx="913.3" cy="95.8" r="9.2"/><circle class="c2" cx="671.4" cy="77.5" r="9.2"/><circle class="c6" cx="962.7" cy="74.2" r="9.2"/><circle class="c1" cx="393.4" cy="33.8" r="9.2"/><circle class="c2" cx="933.1" cy="81.1" r="9.2"/><circle class="c2" cx="567.5" cy="73.4" r="9.2"/><circle class="c0" cx="868.6" cy="58.7" r="9.2"/><circle class="c5" cx="796.9" cy="51.5" r="9.2"/><circle class="c2" cx="755.9" cy="58.9" r="9.2"/><circle class="c0" cx="599.6" cy="62.0" r="9.2"/><circle class="c2" cx="572.7" cy="62.9" r="9.2"/><circle class="c2" cx="854.9" cy="68.4" r="9.2"/><circle class="c4" cx="302.4" cy="65.3" r="9.2"/><circle class="c3" cx="862.7" cy="67.5" r="9.2"/><circle class="c7" cx="920.5" cy="67.2" r="9.2"/><circle class="c1" cx="463.5" cy="66.1" r="9.2"/><circle class="c5" cx="1003.1" cy="65.6" r="9.2"/><circle class="c0" cx="713.3" cy="62.1" r="9.2"/><circle class="c1" cx="587.9" cy="69.2" r="9.2"/><circle class="c2" cx="590.6" cy="62.0" r="9.2"/><circle class="c1" cx="396.7" cy="48.6" r="9.2"/><circle class="c5" cx="913.9" cy="85.4" r="9.2"/><circle class="c0" cx="919.4" cy="69.1" r="9.2"/><circle class="c2" cx="740.9" cy="80.7" r="9.2"/><circle class="c0" cx="734.4" cy="73.5" r="9.2"/><circle class="c8" cx="858.8" cy="76.2" r="9.2"/><circle class="c1" cx="371.4" cy="34.8" r="9.2"/><circle class="c1" cx="417.1" cy="77.0" r="9.2"/><circle class="c0" cx="909.5" cy="44.8" r="9.2"/><circle class="c7" cx="821.3" cy="62.4" r="9.2"/><circle class="c2" cx="680.3" cy="78.4" r="9.2"/><circle class="c1" cx="316.7" cy="75.8" r="9.2"/><circle class="c0" cx="832.8" cy="45.5" r="9.2"/><circle class="c4" cx="383.9" cy="40.5" r="9.2"/><circle class="c3" cx="854.2" cy="48.0" r="9.2"/><circle class="c1" cx="343.0" cy="89.2" r="9.2"/><circle class="c1" cx="393.3" cy="54.9" r="9.2"/><circle class="c0" cx="803.3" cy="55.6" r="9.2"/><circle class="c0" cx="884.0" cy="42.0" r="9.2"/><circle class="c3" cx="776.5" cy="66.7" r="9.2"/><circle class="c2" cx="976.2" cy="73.2" r="9.2"/><circle class="c2" cx="686.9" cy="70.1" r="9.2"/><circle class="c7" cx="826.1" cy="73.3" r="9.2"/><circle class="c7" cx="935.1" cy="85.2" r="9.2"/><circle class="c3" cx="769.1" cy="73.0" r="9.2"/><circle class="c1" cx="361.9" cy="72.6" r="9.2"/><circle class="c0" cx="887.8" cy="80.1" r="9.2"/><circle class="c5" cx="905.8" cy="38.9" r="9.2"/><circle class="c1" cx="439.4" cy="63.6" r="9.2"/><circle class="c1" cx="400.2" cy="58.5" r="9.2"/><circle class="c2" cx="411.3" cy="39.9" r="9.2"/><circle class="c2" cx="938.6" cy="84.9" r="9.2"/><circle class="c2" cx="554.8" cy="73.5" r="9.2"/><circle class="c2" cx="415.1" cy="44.3" r="9.2"/><circle class="c1" cx="358.2" cy="83.5" r="9.2"/><circle class="c0" cx="725.2" cy="55.6" r="9.2"/><circle class="c3" cx="813.6" cy="68.2" r="9.2"/><circle class="c8" cx="883.0" cy="89.5" r="9.2"/><circle class="c2" cx="617.5" cy="62.0" r="9.2"/><circle class="c1" cx="366.4" cy="68.7" r="9.2"/><circle class="c3" cx="841.7" cy="93.3" r="9.2"/><circle class="c0" cx="699.9" cy="62.2" r="9.2"/><circle class="c2" cx="895.5" cy="103.1" r="9.2"/><circle class="c2" cx="904.5" cy="100.2" r="9.2"/><circle class="c3" cx="832.5" cy="85.5" r="9.2"/><circle class="c3" cx="901.0" cy="92.8" r="9.2"/><circle class="c1" cx="509.9" cy="64.8" r="9.2"/><circle class="c6" cx="955.1" cy="57.0" r="9.2"/><circle class="c2" cx="967.3" cy="59.8" r="9.2"/><circle class="c1" cx="372.1" cy="46.6" r="9.2"/><circle class="c2" cx="474.3" cy="73.3" r="9.2"/><circle class="c4" cx="407.2" cy="67.9" r="9.2"/><circle class="c4" cx="402.3" cy="101.5" r="9.2"/><circle class="c0" cx="886.6" cy="104.4" r="9.2"/><circle class="c0" cx="704.3" cy="69.2" r="9.2"/><circle class="c3" cx="864.2" cy="63.5" r="9.2"/><circle class="c2" cx="615.9" cy="73.8" r="9.2"/><circle class="c0" cx="885.8" cy="43.1" r="9.2"/><circle class="c2" cx="766.5" cy="61.7" r="9.2"/><circle class="c7" cx="905.1" cy="82.4" r="9.2"/><circle class="c2" cx="860.4" cy="80.8" r="9.2"/><circle class="c1" cx="384.9" cy="89.7" r="9.2"/><circle class="c4" cx="313.1" cy="60.0" r="9.2"/><circle class="c0" cx="468.3" cy="63.9" r="9.2"/><circle class="c3" cx="759.6" cy="81.5" r="9.2"/><circle class="c3" cx="782.7" cy="79.0" r="9.2"/><circle class="c0" cx="839.2" cy="84.3" r="9.2"/><circle class="c6" cx="898.0" cy="93.5" r="9.2"/><circle class="c3" cx="807.5" cy="70.2" r="9.2"/><circle class="c2" cx="567.9" cy="66.8" r="9.2"/><circle class="c1" cx="387.5" cy="37.0" r="9.2"/><circle class="c7" cx="940.4" cy="50.1" r="9.2"/><circle class="c1" cx="401.4" cy="96.9" r="9.2"/><circle class="c2" cx="745.4" cy="60.6" r="9.2"/><circle class="c1" cx="357.9" cy="95.9" r="9.2"/><circle class="c2" cx="868.6" cy="34.0" r="9.2"/><circle class="c3" cx="945.2" cy="56.0" r="9.2"/><circle class="c0" cx="662.4" cy="60.4" r="9.2"/><circle class="c2" cx="743.1" cy="54.7" r="9.2"/><circle class="c1" cx="698.9" cy="76.2" r="9.2"/><circle class="c4" cx="448.9" cy="62.5" r="9.2"/><circle class="c2" cx="348.0" cy="82.9" r="9.2"/><circle class="c2" cx="873.8" cy="83.4" r="9.2"/><circle class="c0" cx="518.9" cy="72.2" r="9.2"/><circle class="c8" cx="849.2" cy="78.2" r="9.2"/><circle class="c4" cx="438.3" cy="70.8" r="9.2"/><circle class="c2" cx="545.8" cy="64.2" r="9.2"/><circle class="c1" cx="355.8" cy="68.3" r="9.2"/><circle class="c4" cx="392.5" cy="54.6" r="9.2"/><circle class="c2" cx="390.8" cy="73.5" r="9.2"/><circle class="c1" cx="673.4" cy="63.8" r="9.2"/><circle class="c7" cx="949.3" cy="81.3" r="9.2"/><circle class="c4" cx="372.0" cy="80.3" r="9.2"/><circle class="c0" cx="641.6" cy="73.3" r="9.2"/><circle class="c1" cx="563.7" cy="63.3" r="9.2"/><circle class="c2" cx="354.9" cy="78.8" r="9.2"/><circle class="c3" cx="891.0" cy="78.3" r="9.2"/><circle class="c2" cx="474.1" cy="73.6" r="9.2"/><circle class="c1" cx="583.5" cy="65.3" r="9.2"/><circle class="c1" cx="660.9" cy="71.6" r="9.2"/><circle class="c3" cx="770.0" cy="53.9" r="9.2"/><circle class="c0" cx="786.3" cy="72.5" r="9.2"/><circle class="c7" cx="855.6" cy="75.5" r="9.2"/><circle class="c0" cx="831.6" cy="74.3" r="9.2"/><circle class="c0" cx="944.9" cy="64.6" r="9.2"/><circle class="c3" cx="791.5" cy="60.5" r="9.2"/><circle class="c0" cx="801.6" cy="55.0" r="9.2"/><circle class="c7" cx="873.8" cy="57.3" r="9.2"/><circle class="c2" cx="689.3" cy="57.8" r="9.2"/><circle class="c3" cx="913.5" cy="95.7" r="9.2"/><circle class="c2" cx="680.1" cy="77.4" r="9.2"/><circle class="c7" cx="886.6" cy="32.7" r="9.2"/><circle class="c1" cx="545.8" cy="73.6" r="9.2"/><circle class="c0" cx="742.6" cy="59.5" r="9.2"/><circle class="c0" cx="884.5" cy="39.5" r="9.2"/><circle class="c7" cx="864.5" cy="82.7" r="9.2"/><circle class="c1" cx="365.2" cy="85.2" r="9.2"/><circle class="c0" cx="665.2" cy="67.4" r="9.2"/><circle class="c1" cx="412.7" cy="90.0" r="9.2"/><circle class="c7" cx="889.3" cy="70.1" r="9.2"/><circle class="c6" cx="899.0" cy="64.6" r="9.2"/><circle class="c2" cx="608.6" cy="68.3" r="9.2"/><circle class="c2" cx="384.4" cy="104.1" r="9.2"/><circle class="c1" cx="322.1" cy="80.8" r="9.2"/><circle class="c1" cx="367.0" cy="88.0" r="9.2"/><circle class="c1" cx="405.8" cy="80.2" r="9.2"/><circle class="c2" cx="779.0" cy="53.6" r="9.2"/><circle class="c1" cx="406.1" cy="89.8" r="9.2"/><circle class="c1" cx="393.4" cy="103.5" r="9.2"/><circle class="c1" cx="444.3" cy="77.4" r="9.2"/><circle class="c2" cx="370.1" cy="39.3" r="9.2"/><circle class="c2" cx="483.0" cy="64.6" r="9.2"/><circle class="c1" cx="285.8" cy="67.8" r="9.2"/><circle class="c3" cx="816.9" cy="81.4" r="9.2"/><circle class="c2" cx="707.2" cy="56.5" r="9.2"/><circle class="c2" cx="718.4" cy="57.0" r="9.2"/><circle class="c1" cx="603.4" cy="65.7" r="9.2"/><circle class="c1" cx="359.6" cy="41.5" r="9.2"/><circle class="c0" cx="501.0" cy="71.9" r="9.2"/><circle class="c2" cx="873.6" cy="82.3" r="9.2"/><circle class="c3" cx="772.9" cy="82.1" r="9.2"/><circle class="c2" cx="386.6" cy="44.0" r="9.2"/><circle class="c1" cx="635.5" cy="62.0" r="9.2"/><circle class="c5" cx="859.7" cy="35.8" r="9.2"/><circle class="c1" cx="509.9" cy="71.8" r="9.2"/><circle class="c1" cx="339.6" cy="46.8" r="9.2"/><circle class="c3" cx="729.6" cy="78.5" r="9.2"/><circle class="c3" cx="805.9" cy="50.4" r="9.2"/><circle class="c2" cx="617.5" cy="74.4" r="9.2"/><circle class="c0" cx="875.0" cy="90.8" r="9.2"/><circle class="c0" cx="752.1" cy="54.3" r="9.2"/><circle class="c2" cx="572.7" cy="74.7" r="9.2"/><circle class="c2" cx="420.3" cy="93.0" r="9.2"/><circle class="c1" cx="483.0" cy="72.7" r="9.2"/><circle class="c1" cx="366.1" cy="72.0" r="9.2"/><circle class="c3" cx="880.3" cy="35.2" r="9.2"/><circle class="c1" cx="358.6" cy="95.7" r="9.2"/><circle class="c7" cx="880.9" cy="52.3" r="9.2"/><circle class="c2" cx="866.6" cy="48.5" r="9.2"/><circle class="c1" cx="390.5" cy="55.7" r="9.2"/><circle class="c7" cx="814.1" cy="63.6" r="9.2"/><circle class="c2" cx="710.8" cy="68.0" r="9.2"/><circle class="c0" cx="770.0" cy="83.0" r="9.2"/><circle class="c8" cx="879.0" cy="74.9" r="9.2"/><circle class="c2" cx="653.9" cy="65.8" r="9.2"/><circle class="c0" cx="837.2" cy="84.1" r="9.2"/><circle class="c2" cx="408.2" cy="84.7" r="9.2"/><circle class="c6" cx="915.4" cy="84.1" r="9.2"/><circle class="c2" cx="891.9" cy="74.9" r="9.2"/><circle class="c1" cx="399.9" cy="48.9" r="9.2"/><circle class="c7" cx="814.0" cy="79.3" r="9.2"/><circle class="c1" cx="420.4" cy="89.2" r="9.2"/><circle class="c2" cx="859.7" cy="100.0" r="9.2"/><circle class="c2" cx="736.7" cy="74.7" r="9.2"/><circle class="c4" cx="399.8" cy="42.1" r="9.2"/><circle class="c1" cx="330.3" cy="60.7" r="9.2"/><circle class="c2" cx="906.1" cy="55.7" r="9.2"/><circle class="c7" cx="958.3" cy="57.1" r="9.2"/><circle class="c2" cx="814.8" cy="49.0" r="9.2"/><circle class="c3" cx="940.4" cy="84.9" r="9.2"/><circle class="c0" cx="708.2" cy="72.1" r="9.2"/><circle class="c3" cx="872.7" cy="73.9" r="9.2"/><circle class="c3" cx="814.8" cy="49.0" r="9.2"/><circle class="c0" cx="861.5" cy="50.3" r="9.2"/><circle class="c2" cx="775.5" cy="71.5" r="9.2"/><circle class="c2" cx="658.5" cy="72.7" r="9.2"/><circle class="c0" cx="874.2" cy="67.9" r="9.2"/><circle class="c2" cx="745.3" cy="75.3" r="9.2"/><circle class="c1" cx="404.3" cy="43.5" r="9.2"/><circle class="c7" cx="863.9" cy="94.9" r="9.2"/><circle class="c1" cx="404.5" cy="93.7" r="9.2"/><circle class="c0" cx="766.2" cy="82.0" r="9.2"/><circle class="c1" cx="294.7" cy="72.8" r="9.2"/><circle class="c3" cx="910.0" cy="87.0" r="9.2"/><circle class="c2" cx="689.3" cy="79.3" r="9.2"/><circle class="c1" cx="357.5" cy="96.6" r="9.2"/><circle class="c1" cx="414.8" cy="85.5" r="9.2"/><circle class="c2" cx="796.9" cy="64.5" r="9.2"/><circle class="c2" cx="825.7" cy="78.3" r="9.2"/><circle class="c0" cx="743.9" cy="77.9" r="9.2"/><circle class="c1" cx="447.2" cy="58.0" r="9.2"/><circle class="c8" cx="825.1" cy="63.6" r="9.2"/><circle class="c1" cx="321.6" cy="56.2" r="9.2"/><circle class="c4" cx="389.6" cy="95.0" r="9.2"/><circle class="c2" cx="1030.0" cy="67.3" r="9.2"/><circle class="c0" cx="922.4" cy="42.3" r="9.2"/><circle class="c3" cx="847.4" cy="78.3" r="9.2"/><circle class="c2" cx="892.7" cy="37.3" r="9.2"/><circle class="c5" cx="877.6" cy="103.7" r="9.2"/><circle class="c0" cx="935.6" cy="78.8" r="9.2"/><circle class="c2" cx="853.8" cy="54.0" r="9.2"/><circle class="c2" cx="452.7" cy="76.5" r="9.2"/><circle class="c2" cx="806.5" cy="68.7" r="9.2"/><circle class="c5" cx="894.1" cy="38.0" r="9.2"/><circle class="c6" cx="916.5" cy="58.6" r="9.2"/><circle class="c7" cx="811.4" cy="61.0" r="9.2"/><circle class="c7" cx="898.6" cy="88.1" r="9.2"/><circle class="c1" cx="417.3" cy="60.5" r="9.2"/><circle class="c6" cx="928.5" cy="66.2" r="9.2"/><circle class="c3" cx="923.1" cy="43.7" r="9.2"/><circle class="c1" cx="558.7" cy="66.8" r="9.2"/><circle class="c3" cx="894.8" cy="63.3" r="9.2"/><circle class="c1" cx="437.0" cy="81.4" r="9.2"/><circle class="c3" cx="823.8" cy="89.0" r="9.2"/><circle class="c7" cx="914.6" cy="48.3" r="9.2"/><circle class="c1" cx="303.7" cy="62.8" r="9.2"/><circle class="c1" cx="434.1" cy="60.4" r="9.2"/><circle class="c1" cx="351.9" cy="87.2" r="9.2"/><circle class="c1" cx="303.7" cy="74.9" r="9.2"/><circle class="c8" cx="860.9" cy="38.3" r="9.2"/><circle class="c0" cx="700.8" cy="66.2" r="9.2"/><circle class="c1" cx="465.1" cy="62.2" r="9.2"/><circle class="c2" cx="829.1" cy="64.3" r="9.2"/><circle class="c0" cx="892.5" cy="58.3" r="9.2"/><circle class="c0" cx="801.0" cy="55.3" r="9.2"/><circle class="c1" cx="626.5" cy="74.4" r="9.2"/><circle class="c3" cx="875.7" cy="103.5" r="9.2"/><circle class="c0" cx="900.1" cy="83.7" r="9.2"/><circle class="c2" cx="765.9" cy="76.2" r="9.2"/><circle class="c0" cx="907.3" cy="52.0" r="9.2"/><circle class="c1" cx="312.7" cy="77.6" r="9.2"/><circle class="c1" cx="354.8" cy="61.7" r="9.2"/><circle class="c0" cx="806.1" cy="71.2" r="9.2"/><circle class="c1" cx="393.9" cy="82.8" r="9.2"/><circle class="c0" cx="608.6" cy="74.6" r="9.2"/><circle class="c9" cx="1064.8" cy="68.6" r="9.2"/><circle class="c10" cx="1080.0" cy="68.1" r="9.2"/><circle class="c11" cx="1039.0" cy="67.5" r="9.2"/><circle class="c12" cx="860.1" cy="85.7" r="9.2"/><circle class="c13" cx="1168.9" cy="68.1" r="9.2"/><circle class="c0" cx="626.3" cy="168.0" r="9.2"/><circle class="c0" cx="540.5" cy="162.0" r="9.2"/><circle class="c6" cx="811.0" cy="148.7" r="9.2"/><circle class="c0" cx="507.0" cy="164.5" r="9.2"/><circle class="c2" cx="575.6" cy="147.8" r="9.2"/><circle class="c8" cx="900.6" cy="175.1" r="9.2"/><circle class="c8" cx="855.8" cy="146.5" r="9.2"/><circle class="c1" cx="583.1" cy="168.9" r="9.2"/><circle class="c0" cx="748.2" cy="172.5" r="9.2"/><circle class="c3" cx="766.4" cy="151.6" r="9.2"/><circle class="c0" cx="624.1" cy="153.4" r="9.2"/><circle class="c7" cx="737.0" cy="149.7" r="9.2"/><circle class="c0" cx="416.8" cy="165.7" r="9.2"/><circle class="c3" cx="626.3" cy="173.8" r="9.2"/><circle class="c8" cx="816.4" cy="175.7" r="9.2"/><circle class="c1" cx="552.8" cy="146.3" r="9.2"/><circle class="c7" cx="746.8" cy="157.8" r="9.2"/><circle class="c7" cx="879.4" cy="168.7" r="9.2"/><circle class="c0" cx="524.3" cy="132.2" r="9.2"/><circle class="c1" cx="574.2" cy="158.3" r="9.2"/><circle class="c0" cx="784.2" cy="148.5" r="9.2"/><circle class="c2" cx="542.0" cy="170.1" r="9.2"/><circle class="c2" cx="640.8" cy="173.3" r="9.2"/><circle class="c2" cx="569.1" cy="138.0" r="9.2"/><circle class="c0" cx="794.5" cy="168.7" r="9.2"/><circle class="c0" cx="541.3" cy="175.5" r="9.2"/><circle class="c5" cx="901.2" cy="160.9" r="9.2"/><circle class="c3" cx="858.0" cy="150.3" r="9.2"/><circle class="c3" cx="632.1" cy="167.6" r="9.2"/><circle class="c3" cx="597.8" cy="175.4" r="9.2"/><circle class="c0" cx="527.2" cy="187.8" r="9.2"/><circle class="c0" cx="381.0" cy="163.9" r="9.2"/><circle class="c7" cx="721.4" cy="150.1" r="9.2"/><circle class="c1" cx="578.1" cy="173.5" r="9.2"/><circle class="c0" cx="711.8" cy="167.6" r="9.2"/><circle class="c1" cx="497.5" cy="179.5" r="9.2"/><circle class="c3" cx="839.1" cy="167.1" r="9.2"/><circle class="c6" cx="945.4" cy="165.9" r="9.2"/><circle class="c1" cx="570.8" cy="148.7" r="9.2"/><circle class="c4" cx="578.1" cy="184.0" r="9.2"/><circle class="c3" cx="694.6" cy="175.1" r="9.2"/><circle class="c7" cx="812.6" cy="154.3" r="9.2"/><circle class="c1" cx="491.9" cy="163.0" r="9.2"/><circle class="c2" cx="511.8" cy="162.0" r="9.2"/><circle class="c2" cx="489.0" cy="168.3" r="9.2"/><circle class="c3" cx="698.3" cy="161.8" r="9.2"/><circle class="c6" cx="863.7" cy="165.3" r="9.2"/><circle class="c7" cx="730.9" cy="154.1" r="9.2"/><circle class="c1" cx="515.3" cy="163.4" r="9.2"/><circle class="c4" cx="563.1" cy="190.3" r="9.2"/><circle class="c2" cx="554.2" cy="177.3" r="9.2"/><circle class="c0" cx="595.5" cy="176.8" r="9.2"/><circle class="c0" cx="598.6" cy="161.2" r="9.2"/><circle class="c0" cx="782.7" cy="172.3" r="9.2"/><circle class="c0" cx="619.9" cy="153.3" r="9.2"/><circle class="c3" cx="815.8" cy="152.9" r="9.2"/><circle class="c7" cx="688.8" cy="169.3" r="9.2"/><circle class="c0" cx="607.2" cy="166.9" r="9.2"/><circle class="c1" cx="552.0" cy="194.7" r="9.2"/><circle class="c0" cx="720.8" cy="152.3" r="9.2"/><circle class="c3" cx="918.5" cy="171.5" r="9.2"/><circle class="c8" cx="871.7" cy="173.2" r="9.2"/><circle class="c7" cx="793.1" cy="177.4" r="9.2"/><circle class="c4" cx="523.0" cy="173.3" r="9.2"/><circle class="c7" cx="833.4" cy="159.5" r="9.2"/><circle class="c6" cx="885.1" cy="169.2" r="9.2"/><circle class="c3" cx="761.1" cy="161.9" r="9.2"/><circle class="c0" cx="739.4" cy="149.3" r="9.2"/><circle class="c0" cx="605.0" cy="176.9" r="9.2"/><circle class="c7" cx="683.5" cy="167.9" r="9.2"/><circle class="c0" cx="676.6" cy="152.4" r="9.2"/><circle class="c3" cx="750.8" cy="173.1" r="9.2"/><circle class="c3" cx="622.9" cy="175.1" r="9.2"/><circle class="c3" cx="711.9" cy="159.2" r="9.2"/><circle class="c5" cx="818.4" cy="176.5" r="9.2"/><circle class="c0" cx="766.2" cy="148.2" r="9.2"/><circle class="c4" cx="514.4" cy="149.0" r="9.2"/><circle class="c7" cx="739.9" cy="164.3" r="9.2"/><circle class="c6" cx="866.8" cy="155.2" r="9.2"/><circle class="c3" cx="775.2" cy="148.1" r="9.2"/><circle class="c0" cx="766.2" cy="178.2" r="9.2"/><circle class="c3" cx="796.1" cy="157.3" r="9.2"/><circle class="c3" cx="685.6" cy="151.8" r="9.2"/><circle class="c0" cx="722.1" cy="171.0" r="9.2"/><circle class="c2" cx="649.8" cy="154.6" r="9.2"/><circle class="c8" cx="945.4" cy="161.6" r="9.2"/><circle class="c3" cx="766.8" cy="159.5" r="9.2"/><circle class="c3" cx="855.8" cy="180.6" r="9.2"/><circle class="c3" cx="745.8" cy="162.7" r="9.2"/><circle class="c4" cx="569.6" cy="139.2" r="9.2"/><circle class="c0" cx="522.2" cy="189.4" r="9.2"/><circle class="c2" cx="521.3" cy="172.6" r="9.2"/><circle class="c1" cx="540.8" cy="192.5" r="9.2"/><circle class="c3" cx="764.2" cy="157.7" r="9.2"/><circle class="c2" cx="530.9" cy="198.2" r="9.2"/><circle class="c0" cx="553.6" cy="137.9" r="9.2"/><circle class="c0" cx="398.9" cy="164.8" r="9.2"/><circle class="c7" cx="798.3" cy="168.0" r="9.2"/><circle class="c7" cx="762.2" cy="164.1" r="9.2"/><circle class="c1" cx="543.5" cy="138.2" r="9.2"/><circle class="c2" cx="579.2" cy="170.4" r="9.2"/><circle class="c7" cx="820.0" cy="148.3" r="9.2"/><circle class="c7" cx="587.1" cy="180.5" r="9.2"/><circle class="c0" cx="505.2" cy="178.6" r="9.2"/><circle class="c7" cx="828.9" cy="179.2" r="9.2"/><circle class="c3" cx="634.3" cy="164.7" r="9.2"/><circle class="c0" cx="901.1" cy="162.8" r="9.2"/><circle class="c3" cx="631.8" cy="152.0" r="9.2"/><circle class="c4" cx="548.0" cy="129.5" r="9.2"/><circle class="c3" cx="804.3" cy="152.5" r="9.2"/><circle class="c7" cx="658.7" cy="154.2" r="9.2"/><circle class="c1" cx="472.0" cy="165.2" r="9.2"/><circle class="c2" cx="670.1" cy="157.7" r="9.2"/><circle class="c7" cx="863.8" cy="178.9" r="9.2"/><circle class="c2" cx="537.0" cy="136.1" r="9.2"/><circle class="c2" cx="568.1" cy="142.1" r="9.2"/><circle class="c3" cx="748.3" cy="177.5" r="9.2"/><circle class="c1" cx="532.9" cy="145.7" r="9.2"/><circle class="c2" cx="488.5" cy="174.6" r="9.2"/><circle class="c3" cx="853.6" cy="173.6" r="9.2"/><circle class="c1" cx="585.9" cy="173.7" r="9.2"/><circle class="c6" cx="872.5" cy="152.4" r="9.2"/><circle class="c1" cx="470.6" cy="156.6" r="9.2"/><circle class="c3" cx="587.1" cy="147.4" r="9.2"/><circle class="c2" cx="595.2" cy="177.5" r="9.2"/><circle class="c0" cx="765.0" cy="161.9" r="9.2"/><circle class="c3" cx="730.4" cy="149.7" r="9.2"/><circle class="c6" cx="954.4" cy="162.2" r="9.2"/><circle class="c1" cx="522.4" cy="190.6" r="9.2"/><circle class="c7" cx="619.7" cy="161.4" r="9.2"/><circle class="c1" cx="532.9" cy="144.6" r="9.2"/><circle class="c0" cx="891.7" cy="150.4" r="9.2"/><circle class="c3" cx="697.0" cy="154.6" r="9.2"/><circle class="c1" cx="557.8" cy="151.2" r="9.2"/><circle class="c2" cx="464.8" cy="165.9" r="9.2"/><circle class="c5" cx="875.9" cy="152.6" r="9.2"/><circle class="c3" cx="909.6" cy="173.3" r="9.2"/><circle class="c0" cx="575.1" cy="149.3" r="9.2"/><circle class="c8" cx="856.7" cy="150.3" r="9.2"/><circle class="c1" cx="560.2" cy="192.9" r="9.2"/><circle class="c1" cx="533.3" cy="129.5" r="9.2"/><circle class="c2" cx="528.9" cy="164.3" r="9.2"/><circle class="c7" cx="752.7" cy="167.4" r="9.2"/><circle class="c5" cx="990.2" cy="164.5" r="9.2"/><circle class="c5" cx="981.2" cy="162.8" r="9.2"/><circle class="c5" cx="990.2" cy="162.8" r="9.2"/><circle class="c2" cx="443.7" cy="167.7" r="9.2"/><circle class="c1" cx="564.4" cy="189.4" r="9.2"/><circle class="c4" cx="472.4" cy="164.9" r="9.2"/><circle class="c0" cx="881.6" cy="159.8" r="9.2"/><circle class="c7" cx="963.3" cy="162.8" r="9.2"/><circle class="c1" cx="479.5" cy="155.4" r="9.2"/><circle class="c1" cx="561.2" cy="158.4" r="9.2"/><circle class="c0" cx="824.2" cy="155.6" r="9.2"/><circle class="c0" cx="730.2" cy="162.3" r="9.2"/><circle class="c2" cx="605.0" cy="149.1" r="9.2"/><circle class="c6" cx="1017.1" cy="163.5" r="9.2"/><circle class="c3" cx="649.8" cy="172.4" r="9.2"/><circle class="c7" cx="841.1" cy="162.7" r="9.2"/><circle class="c7" cx="852.1" cy="179.9" r="9.2"/><circle class="c6" cx="911.9" cy="168.9" r="9.2"/><circle class="c3" cx="616.6" cy="167.3" r="9.2"/><circle class="c2" cx="540.8" cy="197.0" r="9.2"/><circle class="c2" cx="461.6" cy="157.7" r="9.2"/><circle class="c3" cx="686.5" cy="152.3" r="9.2"/><circle class="c0" cx="640.8" cy="153.2" r="9.2"/><circle class="c5" cx="839.0" cy="179.7" r="9.2"/><circle class="c3" cx="667.7" cy="173.0" r="9.2"/><circle class="c2" cx="434.8" cy="160.4" r="9.2"/><circle class="c2" cx="407.9" cy="165.2" r="9.2"/><circle class="c3" cx="628.1" cy="172.1" r="9.2"/><circle class="c1" cx="520.7" cy="164.0" r="9.2"/><circle class="c4" cx="528.3" cy="132.7" r="9.2"/><circle class="c1" cx="551.9" cy="164.4" r="9.2"/><circle class="c4" cx="484.9" cy="172.6" r="9.2"/><circle class="c4" cx="407.9" cy="162.5" r="9.2"/><circle class="c1" cx="535.7" cy="142.1" r="9.2"/><circle class="c4" cx="563.8" cy="141.6" r="9.2"/><circle class="c2" cx="569.1" cy="188.4" r="9.2"/><circle class="c0" cx="917.0" cy="155.5" r="9.2"/><circle class="c1" cx="569.9" cy="158.8" r="9.2"/><circle class="c5" cx="864.8" cy="179.5" r="9.2"/><circle class="c0" cx="799.3" cy="170.4" r="9.2"/><circle class="c0" cx="531.8" cy="130.8" r="9.2"/><circle class="c1" cx="498.5" cy="165.0" r="9.2"/><circle class="c5" cx="963.3" cy="165.0" r="9.2"/><circle class="c6" cx="867.5" cy="163.4" r="9.2"/><circle class="c1" cx="518.4" cy="187.7" r="9.2"/><circle class="c5" cx="892.4" cy="152.9" r="9.2"/><circle class="c1" cx="549.8" cy="177.4" r="9.2"/><circle class="c2" cx="645.4" cy="165.2" r="9.2"/><circle class="c2" cx="521.2" cy="171.4" r="9.2"/><circle class="c5" cx="999.2" cy="163.0" r="9.2"/><circle class="c7" cx="859.3" cy="152.8" r="9.2"/><circle class="c5" cx="857.4" cy="151.0" r="9.2"/><circle class="c2" cx="398.9" cy="163.0" r="9.2"/><circle class="c7" cx="670.5" cy="161.2" r="9.2"/><circle class="c7" cx="825.1" cy="155.8" r="9.2"/><circle class="c2" cx="544.5" cy="130.6" r="9.2"/><circle class="c2" cx="434.8" cy="167.0" r="9.2"/><circle class="c0" cx="753.5" cy="167.1" r="9.2"/><circle class="c2" cx="560.2" cy="133.5" r="9.2"/><circle class="c6" cx="892.2" cy="160.2" r="9.2"/><circle class="c7" cx="792.8" cy="170.2" r="9.2"/><circle class="c3" cx="712.5" cy="150.5" r="9.2"/><circle class="c7" cx="936.5" cy="160.0" r="9.2"/><circle class="c1" cx="540.7" cy="182.7" r="9.2"/><circle class="c2" cx="645.6" cy="163.1" r="9.2"/><circle class="c4" cx="510.7" cy="173.9" r="9.2"/><circle class="c0" cx="540.7" cy="172.0" r="9.2"/><circle class="c3" cx="802.1" cy="177.3" r="9.2"/><circle class="c7" cx="784.2" cy="177.9" r="9.2"/><circle class="c3" cx="730.1" cy="168.1" r="9.2"/><circle class="c0" cx="546.8" cy="171.4" r="9.2"/><circle class="c0" cx="756.6" cy="157.5" r="9.2"/><circle class="c0" cx="802.1" cy="149.2" r="9.2"/><circle class="c1" cx="497.0" cy="160.7" r="9.2"/><circle class="c7" cx="913.4" cy="167.1" r="9.2"/><circle class="c7" cx="744.3" cy="161.6" r="9.2"/><circle class="c7" cx="877.9" cy="152.0" r="9.2"/><circle class="c5" cx="926.8" cy="164.7" r="9.2"/><circle class="c7" cx="793.1" cy="149.0" r="9.2"/><circle class="c1" cx="557.0" cy="168.0" r="9.2"/><circle class="c2" cx="571.6" cy="180.1" r="9.2"/><circle class="c7" cx="774.6" cy="151.1" r="9.2"/><circle class="c3" cx="694.6" cy="151.4" r="9.2"/><circle class="c1" cx="514.5" cy="163.9" r="9.2"/><circle class="c3" cx="796.6" cy="160.3" r="9.2"/><circle class="c0" cx="739.4" cy="177.1" r="9.2"/><circle class="c5" cx="832.2" cy="172.5" r="9.2"/><circle class="c1" cx="583.5" cy="171.5" r="9.2"/><circle class="c0" cx="517.9" cy="152.8" r="9.2"/><circle class="c8" cx="882.7" cy="177.3" r="9.2"/><circle class="c8" cx="857.2" cy="169.6" r="9.2"/><circle class="c0" cx="819.3" cy="152.5" r="9.2"/><circle class="c1" cx="515.9" cy="175.8" r="9.2"/><circle class="c2" cx="488.5" cy="152.7" r="9.2"/><circle class="c5" cx="1008.1" cy="163.2" r="9.2"/><circle class="c6" cx="848.2" cy="162.0" r="9.2"/><circle class="c2" cx="511.3" cy="157.8" r="9.2"/><circle class="c1" cx="506.4" cy="143.2" r="9.2"/><circle class="c0" cx="538.1" cy="135.1" r="9.2"/><circle class="c7" cx="875.3" cy="154.2" r="9.2"/><circle class="c0" cx="721.4" cy="176.7" r="9.2"/><circle class="c0" cx="504.0" cy="183.4" r="9.2"/><circle class="c1" cx="551.2" cy="197.5" r="9.2"/><circle class="c0" cx="767.6" cy="156.6" r="9.2"/><circle class="c2" cx="582.2" cy="146.2" r="9.2"/><circle class="c7" cx="999.2" cy="164.3" r="9.2"/><circle class="c2" cx="689.8" cy="154.0" r="9.2"/><circle class="c3" cx="757.3" cy="148.5" r="9.2"/><circle class="c0" cx="622.9" cy="150.9" r="9.2"/><circle class="c7" cx="735.3" cy="176.1" r="9.2"/><circle class="c0" cx="858.8" cy="169.0" r="9.2"/><circle class="c7" cx="712.5" cy="163.2" r="9.2"/><circle class="c2" cx="479.5" cy="172.4" r="9.2"/><circle class="c0" cx="715.6" cy="163.1" r="9.2"/><circle class="c2" cx="452.7" cy="168.6" r="9.2"/><circle class="c0" cx="443.7" cy="159.5" r="9.2"/><circle class="c0" cx="457.0" cy="168.2" r="9.2"/><circle class="c7" cx="776.3" cy="175.3" r="9.2"/><circle class="c2" cx="560.2" cy="145.1" r="9.2"/><circle class="c1" cx="542.3" cy="199.8" r="9.2"/><circle class="c2" cx="578.4" cy="157.5" r="9.2"/><circle class="c1" cx="527.0" cy="183.9" r="9.2"/><circle class="c0" cx="586.0" cy="169.2" r="9.2"/><circle class="c1" cx="521.0" cy="179.1" r="9.2"/><circle class="c0" cx="613.9" cy="176.0" r="9.2"/><circle class="c3" cx="838.6" cy="164.3" r="9.2"/><circle class="c2" cx="587.6" cy="159.5" r="9.2"/><circle class="c7" cx="918.5" cy="155.5" r="9.2"/><circle class="c2" cx="538.0" cy="130.2" r="9.2"/><circle class="c5" cx="909.3" cy="157.8" r="9.2"/><circle class="c0" cx="530.9" cy="186.0" r="9.2"/><circle class="c4" cx="506.4" cy="184.9" r="9.2"/><circle class="c2" cx="390.0" cy="163.5" r="9.2"/><circle class="c0" cx="596.0" cy="148.8" r="9.2"/><circle class="c7" cx="674.7" cy="172.8" r="9.2"/><circle class="c3" cx="597.9" cy="172.1" r="9.2"/><circle class="c2" cx="515.4" cy="137.6" r="9.2"/><circle class="c0" cx="903.6" cy="170.4" r="9.2"/><circle class="c5" cx="936.5" cy="167.5" r="9.2"/><circle class="c3" cx="882.7" cy="149.2" r="9.2"/><circle class="c2" cx="464.1" cy="167.8" r="9.2"/><circle class="c4" cx="531.1" cy="142.1" r="9.2"/><circle class="c3" cx="794.4" cy="173.8" r="9.2"/><circle class="c1" cx="537.1" cy="130.6" r="9.2"/><circle class="c0" cx="856.3" cy="149.3" r="9.2"/><circle class="c6" cx="848.9" cy="164.8" r="9.2"/><circle class="c2" cx="658.7" cy="172.5" r="9.2"/><circle class="c2" cx="551.5" cy="145.1" r="9.2"/><circle class="c3" cx="770.6" cy="161.4" r="9.2"/><circle class="c0" cx="703.5" cy="150.9" r="9.2"/><circle class="c8" cx="954.4" cy="165.5" r="9.2"/><circle class="c3" cx="825.0" cy="167.0" r="9.2"/><circle class="c1" cx="524.3" cy="195.0" r="9.2"/><circle class="c2" cx="635.5" cy="173.8" r="9.2"/><circle class="c0" cx="830.4" cy="174.6" r="9.2"/><circle class="c8" cx="927.5" cy="157.8" r="9.2"/><circle class="c1" cx="540.3" cy="189.6" r="9.2"/><circle class="c0" cx="590.1" cy="157.7" r="9.2"/><circle class="c7" cx="821.3" cy="155.9" r="9.2"/><circle class="c0" cx="681.4" cy="167.4" r="9.2"/><circle class="c1" cx="515.6" cy="185.2" r="9.2"/><circle class="c0" cx="846.9" cy="180.1" r="9.2"/><circle class="c8" cx="909.6" cy="153.5" r="9.2"/><circle class="c8" cx="844.9" cy="164.4" r="9.2"/><circle class="c3" cx="633.3" cy="162.0" r="9.2"/><circle class="c8" cx="886.5" cy="174.3" r="9.2"/><circle class="c3" cx="927.5" cy="169.7" r="9.2"/><circle class="c1" cx="567.2" cy="137.2" r="9.2"/><circle class="c1" cx="576.8" cy="144.1" r="9.2"/><circle class="c4" cx="578.1" cy="142.4" r="9.2"/><circle class="c5" cx="1035.0" cy="163.9" r="9.2"/><circle class="c1" cx="547.8" cy="129.7" r="9.2"/><circle class="c2" cx="673.2" cy="153.0" r="9.2"/><circle class="c4" cx="533.3" cy="198.9" r="9.2"/><circle class="c2" cx="531.5" cy="158.9" r="9.2"/><circle class="c0" cx="698.7" cy="155.9" r="9.2"/><circle class="c7" cx="757.3" cy="177.9" r="9.2"/><circle class="c3" cx="730.4" cy="176.9" r="9.2"/><circle class="c5" cx="873.7" cy="148.3" r="9.2"/><circle class="c0" cx="685.6" cy="174.2" r="9.2"/><circle class="c2" cx="655.3" cy="167.1" r="9.2"/><circle class="c7" cx="665.9" cy="167.9" r="9.2"/><circle class="c2" cx="453.8" cy="158.8" r="9.2"/><circle class="c1" cx="425.8" cy="166.3" r="9.2"/><circle class="c0" cx="786.0" cy="175.6" r="9.2"/><circle class="c3" cx="827.8" cy="149.7" r="9.2"/><circle class="c3" cx="779.1" cy="171.9" r="9.2"/><circle class="c1" cx="554.7" cy="171.6" r="9.2"/><circle class="c2" cx="513.0" cy="174.6" r="9.2"/><circle class="c5" cx="972.3" cy="164.7" r="9.2"/><circle class="c2" cx="606.0" cy="159.1" r="9.2"/><circle class="c4" cx="509.6" cy="175.1" r="9.2"/><circle class="c1" cx="515.4" cy="190.2" r="9.2"/><circle class="c3" cx="891.4" cy="166.5" r="9.2"/><circle class="c8" cx="837.9" cy="179.7" r="9.2"/><circle class="c1" cx="452.7" cy="158.6" r="9.2"/><circle class="c1" cx="416.8" cy="161.8" r="9.2"/><circle class="c7" cx="613.9" cy="149.8" r="9.2"/><circle class="c0" cx="484.7" cy="154.2" r="9.2"/><circle class="c0" cx="605.3" cy="153.2" r="9.2"/><circle class="c8" cx="870.6" cy="149.2" r="9.2"/><circle class="c0" cx="493.7" cy="156.0" r="9.2"/><circle class="c5" cx="816.5" cy="173.4" r="9.2"/><circle class="c3" cx="658.5" cy="171.9" r="9.2"/><circle class="c8" cx="847.5" cy="157.5" r="9.2"/><circle class="c3" cx="746.2" cy="175.1" r="9.2"/><circle class="c7" cx="700.5" cy="152.7" r="9.2"/><circle class="c0" cx="891.7" cy="176.2" r="9.2"/><circle class="c0" cx="559.8" cy="180.9" r="9.2"/><circle class="c3" cx="714.2" cy="163.5" r="9.2"/><circle class="c0" cx="692.3" cy="168.8" r="9.2"/><circle class="c2" cx="529.7" cy="137.7" r="9.2"/><circle class="c5" cx="812.4" cy="171.1" r="9.2"/><circle class="c1" cx="551.2" cy="128.9" r="9.2"/><circle class="c2" cx="494.7" cy="158.8" r="9.2"/><circle class="c0" cx="519.8" cy="167.5" r="9.2"/><circle class="c3" cx="654.9" cy="167.2" r="9.2"/><circle class="c2" cx="557.3" cy="144.5" r="9.2"/><circle class="c5" cx="828.9" cy="147.9" r="9.2"/><circle class="c0" cx="552.2" cy="158.0" r="9.2"/><circle class="c8" cx="918.2" cy="159.1" r="9.2"/><circle class="c0" cx="667.7" cy="168.3" r="9.2"/><circle class="c6" cx="820.0" cy="178.6" r="9.2"/><circle class="c7" cx="709.2" cy="156.0" r="9.2"/><circle class="c8" cx="972.3" cy="162.8" r="9.2"/><circle class="c7" cx="700.2" cy="165.0" r="9.2"/><circle class="c0" cx="569.3" cy="164.2" r="9.2"/><circle class="c4" cx="536.1" cy="131.1" r="9.2"/><circle class="c0" cx="518.8" cy="187.9" r="9.2"/><circle class="c0" cx="554.0" cy="146.3" r="9.2"/><circle class="c4" cx="548.5" cy="157.0" r="9.2"/><circle class="c0" cx="775.2" cy="178.3" r="9.2"/><circle class="c3" cx="778.6" cy="153.9" r="9.2"/><circle class="c2" cx="676.6" cy="173.4" r="9.2"/><circle class="c1" cx="548.7" cy="135.0" r="9.2"/><circle class="c6" cx="846.9" cy="147.0" r="9.2"/><circle class="c0" cx="594.8" cy="163.0" r="9.2"/><circle class="c3" cx="680.8" cy="166.1" r="9.2"/><circle class="c2" cx="529.9" cy="156.2" r="9.2"/><circle class="c8" cx="807.2" cy="159.0" r="9.2"/><circle class="c3" cx="602.3" cy="151.0" r="9.2"/><circle class="c7" cx="981.2" cy="164.6" r="9.2"/><circle class="c1" cx="514.9" cy="156.9" r="9.2"/><circle class="c1" cx="539.8" cy="165.0" r="9.2"/><circle class="c0" cx="873.7" cy="178.4" r="9.2"/><circle class="c0" cx="425.8" cy="161.1" r="9.2"/><circle class="c8" cx="1008.1" cy="164.2" r="9.2"/><circle class="c6" cx="810.6" cy="164.6" r="9.2"/><circle class="c0" cx="932.2" cy="165.1" r="9.2"/><circle class="c0" cx="877.9" cy="150.5" r="9.2"/><circle class="c3" cx="667.7" cy="153.3" r="9.2"/><circle class="c7" cx="753.5" cy="167.7" r="9.2"/><circle class="c2" cx="486.9" cy="162.4" r="9.2"/><circle class="c1" cx="556.2" cy="164.5" r="9.2"/><circle class="c2" cx="461.6" cy="169.7" r="9.2"/><circle class="c3" cx="802.7" cy="176.2" r="9.2"/><circle class="c3" cx="760.2" cy="172.0" r="9.2"/><circle class="c2" cx="539.6" cy="190.9" r="9.2"/><circle class="c0" cx="542.5" cy="135.4" r="9.2"/><circle class="c2" cx="542.3" cy="128.0" r="9.2"/><circle class="c0" cx="642.1" cy="157.0" r="9.2"/><circle class="c3" cx="587.8" cy="164.9" r="9.2"/><circle class="c8" cx="1026.0" cy="163.7" r="9.2"/><circle class="c3" cx="788.9" cy="160.3" r="9.2"/><circle class="c2" cx="513.4" cy="176.1" r="9.2"/><circle class="c7" cx="748.3" cy="148.9" r="9.2"/><circle class="c3" cx="864.8" cy="147.4" r="9.2"/><circle class="c0" cx="479.0" cy="162.7" r="9.2"/><circle class="c3" cx="725.3" cy="154.7" r="9.2"/><circle class="c4" cx="561.1" cy="159.3" r="9.2"/><circle class="c3" cx="773.8" cy="161.4" r="9.2"/><circle class="c3" cx="596.0" cy="177.8" r="9.2"/><circle class="c5" cx="837.9" cy="158.4" r="9.2"/><circle class="c8" cx="811.0" cy="177.9" r="9.2"/><circle class="c7" cx="612.6" cy="157.6" r="9.2"/><circle class="c7" cx="780.2" cy="159.5" r="9.2"/><circle class="c0" cx="724.2" cy="173.2" r="9.2"/><circle class="c0" cx="703.5" cy="176.0" r="9.2"/><circle class="c0" cx="631.8" cy="174.2" r="9.2"/><circle class="c3" cx="837.9" cy="147.4" r="9.2"/><circle class="c3" cx="775.4" cy="176.1" r="9.2"/><circle class="c4" cx="470.6" cy="170.8" r="9.2"/><circle class="c1" cx="499.6" cy="170.5" r="9.2"/><circle class="c3" cx="690.5" cy="172.2" r="9.2"/><circle class="c3" cx="712.5" cy="176.5" r="9.2"/><circle class="c5" cx="897.8" cy="161.7" r="9.2"/><circle class="c7" cx="900.6" cy="151.7" r="9.2"/><circle class="c7" cx="888.6" cy="173.1" r="9.2"/><circle class="c7" cx="845.3" cy="166.8" r="9.2"/><circle class="c6" cx="818.7" cy="157.0" r="9.2"/><circle class="c1" cx="497.5" cy="149.0" r="9.2"/><circle class="c3" cx="614.9" cy="173.5" r="9.2"/><circle class="c2" cx="563.6" cy="169.2" r="9.2"/><circle class="c7" cx="807.5" cy="162.6" r="9.2"/><circle class="c3" cx="789.4" cy="158.6" r="9.2"/><circle class="c14" cx="360.5" cy="163.5" r="9.2"/><circle class="c15" cx="1067.2" cy="163.4" r="9.2"/><circle class="c16" cx="1082.6" cy="163.4" r="9.2"/><circle class="c17" cx="783.1" cy="249.6" r="9.2"/><circle class="c17" cx="795.8" cy="255.6" r="9.2"/><circle class="c4" cx="626.6" cy="275.5" r="9.2"/><circle class="c0" cx="837.6" cy="261.8" r="9.2"/><circle class="c3" cx="701.3" cy="293.9" r="9.2"/><circle class="c2" cx="680.3" cy="230.8" r="9.2"/><circle class="c2" cx="601.4" cy="233.5" r="9.2"/><circle class="c2" cx="586.8" cy="264.6" r="9.2"/><circle class="c7" cx="736.0" cy="260.3" r="9.2"/><circle class="c6" cx="600.2" cy="283.8" r="9.2"/><circle class="c1" cx="596.4" cy="267.0" r="9.2"/><circle class="c1" cx="600.1" cy="281.9" r="9.2"/><circle class="c1" cx="578.2" cy="275.7" r="9.2"/><circle class="c2" cx="660.9" cy="231.8" r="9.2"/><circle class="c4" cx="483.3" cy="259.2" r="9.2"/><circle class="c3" cx="679.9" cy="287.3" r="9.2"/><circle class="c3" cx="737.8" cy="266.8" r="9.2"/><circle class="c4" cx="614.4" cy="252.5" r="9.2"/><circle class="c2" cx="628.6" cy="234.9" r="9.2"/><circle class="c3" cx="711.2" cy="252.5" r="9.2"/><circle class="c0" cx="725.1" cy="281.3" r="9.2"/><circle class="c6" cx="810.3" cy="254.8" r="9.2"/><circle class="c3" cx="675.4" cy="254.3" r="9.2"/><circle class="c5" cx="737.3" cy="273.0" r="9.2"/><circle class="c4" cx="574.5" cy="267.4" r="9.2"/><circle class="c0" cx="641.1" cy="244.0" r="9.2"/><circle class="c0" cx="727.1" cy="261.3" r="9.2"/><circle class="c0" cx="565.0" cy="279.3" r="9.2"/><circle class="c2" cx="623.6" cy="245.4" r="9.2"/><circle class="c6" cx="703.7" cy="238.7" r="9.2"/><circle class="c7" cx="621.9" cy="244.1" r="9.2"/><circle class="c2" cx="550.3" cy="267.7" r="9.2"/><circle class="c0" cx="646.8" cy="231.8" r="9.2"/><circle class="c2" cx="595.7" cy="257.1" r="9.2"/><circle class="c0" cx="755.2" cy="258.2" r="9.2"/><circle class="c0" cx="683.1" cy="291.8" r="9.2"/><circle class="c0" cx="837.6" cy="256.1" r="9.2"/><circle class="c5" cx="653.1" cy="281.0" r="9.2"/><circle class="c4" cx="611.8" cy="252.2" r="9.2"/><circle class="c4" cx="590.2" cy="242.5" r="9.2"/><circle class="c3" cx="687.1" cy="284.7" r="9.2"/><circle class="c1" cx="605.2" cy="254.8" r="9.2"/><circle class="c4" cx="577.4" cy="275.6" r="9.2"/><circle class="c3" cx="658.0" cy="253.4" r="9.2"/><circle class="c0" cx="724.8" cy="243.5" r="9.2"/><circle class="c2" cx="746.7" cy="279.5" r="9.2"/><circle class="c5" cx="669.1" cy="232.5" r="9.2"/><circle class="c3" cx="658.5" cy="274.6" r="9.2"/><circle class="c3" cx="747.5" cy="244.0" r="9.2"/><circle class="c5" cx="733.9" cy="281.8" r="9.2"/><circle class="c1" cx="603.2" cy="267.8" r="9.2"/><circle class="c3" cx="713.0" cy="280.7" r="9.2"/><circle class="c2" cx="578.9" cy="253.8" r="9.2"/><circle class="c4" cx="546.9" cy="270.2" r="9.2"/><circle class="c6" cx="633.9" cy="272.5" r="9.2"/><circle class="c2" cx="644.5" cy="233.2" r="9.2"/><circle class="c7" cx="719.5" cy="290.8" r="9.2"/><circle class="c2" cx="828.5" cy="254.9" r="9.2"/><circle class="c2" cx="646.8" cy="284.6" r="9.2"/><circle class="c3" cx="672.5" cy="235.2" r="9.2"/><circle class="c3" cx="693.1" cy="226.5" r="9.2"/><circle class="c2" cx="710.4" cy="293.5" r="9.2"/><circle class="c3" cx="651.2" cy="280.0" r="9.2"/><circle class="c5" cx="698.2" cy="291.8" r="9.2"/><circle class="c2" cx="719.3" cy="239.4" r="9.2"/><circle class="c7" cx="794.1" cy="259.0" r="9.2"/><circle class="c2" cx="582.4" cy="265.1" r="9.2"/><circle class="c1" cx="566.7" cy="264.0" r="9.2"/><circle class="c17" cx="764.9" cy="272.0" r="9.2"/><circle class="c2" cx="681.4" cy="277.2" r="9.2"/><circle class="c0" cx="774.0" cy="246.9" r="9.2"/><circle class="c6" cx="801.2" cy="254.0" r="9.2"/><circle class="c0" cx="684.4" cy="253.9" r="9.2"/><circle class="c2" cx="587.9" cy="265.2" r="9.2"/><circle class="c3" cx="769.6" cy="253.9" r="9.2"/><circle class="c0" cx="605.5" cy="235.3" r="9.2"/><circle class="c6" cx="635.3" cy="250.6" r="9.2"/><circle class="c0" cx="753.4" cy="270.7" r="9.2"/><circle class="c0" cx="650.2" cy="279.7" r="9.2"/><circle class="c0" cx="745.2" cy="264.9" r="9.2"/><circle class="c3" cx="695.9" cy="276.1" r="9.2"/><circle class="c4" cx="594.3" cy="234.0" r="9.2"/><circle class="c4" cx="567.9" cy="279.2" r="9.2"/><circle class="c7" cx="634.5" cy="272.5" r="9.2"/><circle class="c0" cx="855.7" cy="257.9" r="9.2"/><circle class="c3" cx="663.6" cy="235.7" r="9.2"/><circle class="c7" cx="659.6" cy="232.1" r="9.2"/><circle class="c3" cx="635.2" cy="254.2" r="9.2"/><circle class="c0" cx="716.9" cy="234.4" r="9.2"/><circle class="c0" cx="801.2" cy="264.1" r="9.2"/><circle class="c1" cx="624.0" cy="274.2" r="9.2"/><circle class="c1" cx="618.9" cy="266.6" r="9.2"/><circle class="c1" cx="620.1" cy="261.3" r="9.2"/><circle class="c0" cx="666.3" cy="265.9" r="9.2"/><circle class="c4" cx="621.9" cy="272.6" r="9.2"/><circle class="c2" cx="727.6" cy="263.7" r="9.2"/><circle class="c1" cx="602.0" cy="255.5" r="9.2"/><circle class="c7" cx="661.4" cy="260.2" r="9.2"/><circle class="c1" cx="578.1" cy="279.5" r="9.2"/><circle class="c4" cx="543.6" cy="253.4" r="9.2"/><circle class="c0" cx="693.1" cy="233.2" r="9.2"/><circle class="c0" cx="738.2" cy="258.2" r="9.2"/><circle class="c3" cx="713.4" cy="257.4" r="9.2"/><circle class="c2" cx="764.4" cy="247.4" r="9.2"/><circle class="c3" cx="628.7" cy="259.4" r="9.2"/><circle class="c2" cx="711.2" cy="236.4" r="9.2"/><circle class="c0" cx="715.0" cy="246.6" r="9.2"/><circle class="c2" cx="564.9" cy="275.3" r="9.2"/><circle class="c0" cx="645.4" cy="274.9" r="9.2"/><circle class="c6" cx="610.4" cy="282.1" r="9.2"/><circle class="c0" cx="725.9" cy="255.1" r="9.2"/><circle class="c2" cx="528.7" cy="263.9" r="9.2"/><circle class="c6" cx="644.6" cy="254.9" r="9.2"/><circle class="c2" cx="734.0" cy="237.0" r="9.2"/><circle class="c0" cx="703.7" cy="288.2" r="9.2"/><circle class="c1" cx="608.6" cy="247.1" r="9.2"/><circle class="c7" cx="701.4" cy="236.5" r="9.2"/><circle class="c3" cx="746.7" cy="237.1" r="9.2"/><circle class="c1" cx="600.5" cy="265.5" r="9.2"/><circle class="c2" cx="474.2" cy="259.2" r="9.2"/><circle class="c1" cx="547.4" cy="262.5" r="9.2"/><circle class="c1" cx="533.4" cy="257.3" r="9.2"/><circle class="c17" cx="781.3" cy="259.9" r="9.2"/><circle class="c7" cx="701.3" cy="272.1" r="9.2"/><circle class="c7" cx="714.6" cy="256.7" r="9.2"/><circle class="c0" cx="755.8" cy="275.7" r="9.2"/><circle class="c3" cx="661.3" cy="282.4" r="9.2"/><circle class="c3" cx="741.1" cy="281.0" r="9.2"/><circle class="c3" cx="729.0" cy="234.5" r="9.2"/><circle class="c2" cx="651.7" cy="232.0" r="9.2"/><circle class="c2" cx="709.8" cy="244.2" r="9.2"/><circle class="c17" cx="782.2" cy="264.2" r="9.2"/><circle class="c0" cx="674.2" cy="256.2" r="9.2"/><circle class="c2" cx="737.6" cy="283.7" r="9.2"/><circle class="c1" cx="573.8" cy="251.2" r="9.2"/><circle class="c7" cx="712.1" cy="272.3" r="9.2"/><circle class="c7" cx="704.8" cy="257.6" r="9.2"/><circle class="c0" cx="686.1" cy="274.5" r="9.2"/><circle class="c2" cx="533.1" cy="260.4" r="9.2"/><circle class="c4" cx="557.2" cy="259.5" r="9.2"/><circle class="c7" cx="674.0" cy="290.0" r="9.2"/><circle class="c3" cx="670.7" cy="287.2" r="9.2"/><circle class="c1" cx="594.4" cy="280.7" r="9.2"/><circle class="c7" cx="655.8" cy="249.7" r="9.2"/><circle class="c6" cx="596.6" cy="262.4" r="9.2"/><circle class="c7" cx="692.9" cy="228.6" r="9.2"/><circle class="c0" cx="590.8" cy="279.6" r="9.2"/><circle class="c2" cx="657.3" cy="244.4" r="9.2"/><circle class="c7" cx="714.7" cy="281.9" r="9.2"/><circle class="c7" cx="678.3" cy="258.4" r="9.2"/><circle class="c17" cx="819.4" cy="254.9" r="9.2"/><circle class="c6" cx="717.8" cy="273.2" r="9.2"/><circle class="c1" cx="560.3" cy="267.8" r="9.2"/><circle class="c2" cx="737.3" cy="246.4" r="9.2"/><circle class="c2" cx="760.7" cy="266.2" r="9.2"/><circle class="c2" cx="693.0" cy="270.6" r="9.2"/><circle class="c2" cx="528.4" cy="256.6" r="9.2"/><circle class="c2" cx="690.1" cy="277.0" r="9.2"/><circle class="c2" cx="873.9" cy="259.1" r="9.2"/><circle class="c0" cx="586.4" cy="277.7" r="9.2"/><circle class="c7" cx="710.4" cy="224.0" r="9.2"/><circle class="c7" cx="855.7" cy="260.2" r="9.2"/><circle class="c0" cx="591.0" cy="259.2" r="9.2"/><circle class="c0" cx="661.1" cy="239.4" r="9.2"/><circle class="c0" cx="652.2" cy="239.9" r="9.2"/><circle class="c4" cx="584.7" cy="236.5" r="9.2"/><circle class="c2" cx="724.5" cy="229.4" r="9.2"/><circle class="c2" cx="689.0" cy="269.7" r="9.2"/><circle class="c7" cx="698.3" cy="248.3" r="9.2"/><circle class="c1" cx="492.3" cy="259.1" r="9.2"/><circle class="c3" cx="666.2" cy="263.7" r="9.2"/><circle class="c3" cx="698.1" cy="249.5" r="9.2"/><circle class="c1" cx="592.3" cy="286.6" r="9.2"/><circle class="c7" cx="697.5" cy="263.2" r="9.2"/><circle class="c17" cx="777.7" cy="256.3" r="9.2"/><circle class="c1" cx="611.1" cy="268.6" r="9.2"/><circle class="c2" cx="574.1" cy="283.0" r="9.2"/><circle class="c4" cx="572.0" cy="258.7" r="9.2"/><circle class="c0" cx="632.8" cy="272.5" r="9.2"/><circle class="c1" cx="537.8" cy="265.8" r="9.2"/><circle class="c1" cx="583.2" cy="231.7" r="9.2"/><circle class="c2" cx="670.9" cy="272.0" r="9.2"/><circle class="c0" cx="652.6" cy="264.4" r="9.2"/><circle class="c0" cx="714.5" cy="257.5" r="9.2"/><circle class="c2" cx="864.8" cy="259.9" r="9.2"/><circle class="c2" cx="699.2" cy="270.9" r="9.2"/><circle class="c3" cx="720.8" cy="247.2" r="9.2"/><circle class="c1" cx="598.2" cy="245.5" r="9.2"/><circle class="c7" cx="764.9" cy="243.8" r="9.2"/><circle class="c2" cx="741.1" cy="269.1" r="9.2"/><circle class="c5" cx="819.4" cy="263.0" r="9.2"/><circle class="c5" cx="732.0" cy="246.1" r="9.2"/><circle class="c17" cx="792.1" cy="265.0" r="9.2"/><circle class="c17" cx="810.3" cy="263.2" r="9.2"/><circle class="c3" cx="645.2" cy="266.7" r="9.2"/><circle class="c3" cx="700.3" cy="286.9" r="9.2"/><circle class="c4" cx="605.0" cy="236.3" r="9.2"/><circle class="c1" cx="619.5" cy="235.8" r="9.2"/><circle class="c0" cx="754.9" cy="242.0" r="9.2"/><circle class="c1" cx="610.4" cy="235.3" r="9.2"/><circle class="c1" cx="613.7" cy="270.4" r="9.2"/><circle class="c0" cx="864.8" cy="258.5" r="9.2"/><circle class="c5" cx="665.0" cy="288.2" r="9.2"/><circle class="c2" cx="692.2" cy="293.0" r="9.2"/><circle class="c6" cx="578.1" cy="247.1" r="9.2"/><circle class="c3" cx="740.8" cy="277.7" r="9.2"/><circle class="c1" cx="583.2" cy="285.7" r="9.2"/><circle class="c3" cx="667.5" cy="233.4" r="9.2"/><circle class="c3" cx="728.6" cy="287.9" r="9.2"/><circle class="c1" cx="501.4" cy="260.2" r="9.2"/><circle class="c4" cx="582.4" cy="279.1" r="9.2"/><circle class="c3" cx="750.5" cy="251.3" r="9.2"/><circle class="c1" cx="519.6" cy="262.4" r="9.2"/><circle class="c3" cx="672.9" cy="250.7" r="9.2"/><circle class="c2" cx="755.8" cy="240.5" r="9.2"/><circle class="c3" cx="761.1" cy="252.9" r="9.2"/><circle class="c6" cx="644.9" cy="277.3" r="9.2"/><circle class="c2" cx="637.4" cy="279.4" r="9.2"/><circle class="c1" cx="510.5" cy="261.3" r="9.2"/><circle class="c6" cx="567.8" cy="267.1" r="9.2"/><circle class="c17" cx="846.7" cy="257.3" r="9.2"/><circle class="c3" cx="726.8" cy="241.5" r="9.2"/><circle class="c7" cx="745.6" cy="250.6" r="9.2"/><circle class="c7" cx="682.3" cy="226.0" r="9.2"/><circle class="c2" cx="665.8" cy="247.3" r="9.2"/><circle class="c2" cx="764.4" cy="259.2" r="9.2"/><circle class="c7" cx="692.2" cy="224.7" r="9.2"/><circle class="c1" cx="584.4" cy="247.5" r="9.2"/><circle class="c7" cx="721.1" cy="274.1" r="9.2"/><circle class="c0" cx="749.0" cy="262.2" r="9.2"/><circle class="c6" cx="767.5" cy="248.4" r="9.2"/><circle class="c2" cx="601.4" cy="284.6" r="9.2"/><circle class="c7" cx="637.7" cy="233.5" r="9.2"/><circle class="c1" cx="510.5" cy="258.2" r="9.2"/><circle class="c1" cx="615.6" cy="271.8" r="9.2"/><circle class="c0" cx="736.6" cy="247.9" r="9.2"/><circle class="c6" cx="585.0" cy="270.7" r="9.2"/><circle class="c4" cx="567.4" cy="267.3" r="9.2"/><circle class="c0" cx="604.2" cy="265.3" r="9.2"/><circle class="c3" cx="674.0" cy="227.2" r="9.2"/><circle class="c2" cx="501.4" cy="258.7" r="9.2"/><circle class="c2" cx="753.4" cy="267.6" r="9.2"/><circle class="c3" cx="723.3" cy="239.2" r="9.2"/><circle class="c7" cx="701.3" cy="223.6" r="9.2"/><circle class="c2" cx="599.6" cy="249.1" r="9.2"/><circle class="c1" cx="581.7" cy="277.2" r="9.2"/><circle class="c5" cx="670.5" cy="239.4" r="9.2"/><circle class="c3" cx="637.7" cy="282.9" r="9.2"/><circle class="c2" cx="545.7" cy="269.7" r="9.2"/><circle class="c7" cx="706.9" cy="257.3" r="9.2"/><circle class="c2" cx="774.0" cy="269.1" r="9.2"/><circle class="c3" cx="719.5" cy="226.9" r="9.2"/><circle class="c3" cx="736.6" cy="261.7" r="9.2"/><circle class="c2" cx="456.0" cy="259.2" r="9.2"/><circle class="c0" cx="716.1" cy="282.1" r="9.2"/><circle class="c1" cx="576.9" cy="267.2" r="9.2"/><circle class="c3" cx="705.7" cy="230.1" r="9.2"/><circle class="c5" cx="648.0" cy="271.0" r="9.2"/><circle class="c2" cx="678.3" cy="260.9" r="9.2"/><circle class="c3" cx="643.1" cy="262.8" r="9.2"/><circle class="c0" cx="643.6" cy="247.2" r="9.2"/><circle class="c4" cx="587.2" cy="248.7" r="9.2"/><circle class="c1" cx="565.0" cy="237.2" r="9.2"/><circle class="c2" cx="683.6" cy="284.7" r="9.2"/><circle class="c2" cx="544.5" cy="250.0" r="9.2"/><circle class="c0" cx="677.6" cy="277.8" r="9.2"/><circle class="c3" cx="654.1" cy="276.8" r="9.2"/><circle class="c7" cx="680.7" cy="243.3" r="9.2"/><circle class="c6" cx="687.0" cy="278.4" r="9.2"/><circle class="c0" cx="528.7" cy="254.1" r="9.2"/><circle class="c4" cx="611.9" cy="262.8" r="9.2"/><circle class="c3" cx="691.0" cy="273.6" r="9.2"/><circle class="c1" cx="567.9" cy="256.0" r="9.2"/><circle class="c2" cx="668.8" cy="249.4" r="9.2"/><circle class="c3" cx="628.6" cy="281.1" r="9.2"/><circle class="c7" cx="681.9" cy="231.6" r="9.2"/><circle class="c7" cx="773.0" cy="264.5" r="9.2"/><circle class="c6" cx="661.0" cy="256.9" r="9.2"/><circle class="c2" cx="846.7" cy="260.5" r="9.2"/><circle class="c2" cx="719.0" cy="241.4" r="9.2"/><circle class="c3" cx="729.5" cy="284.5" r="9.2"/><circle class="c7" cx="662.8" cy="253.8" r="9.2"/><circle class="c4" cx="574.1" cy="233.8" r="9.2"/><circle class="c3" cx="756.5" cy="250.1" r="9.2"/><circle class="c2" cx="786.2" cy="257.0" r="9.2"/><circle class="c7" cx="685.8" cy="279.1" r="9.2"/><circle class="c1" cx="576.6" cy="262.5" r="9.2"/><circle class="c3" cx="670.9" cy="276.1" r="9.2"/><circle class="c2" cx="559.3" cy="271.7" r="9.2"/><circle class="c1" cx="619.5" cy="280.3" r="9.2"/><circle class="c1" cx="566.7" cy="254.0" r="9.2"/><circle class="c2" cx="634.6" cy="273.1" r="9.2"/><circle class="c7" cx="655.9" cy="286.4" r="9.2"/><circle class="c2" cx="555.9" cy="242.6" r="9.2"/><circle class="c2" cx="665.0" cy="228.6" r="9.2"/><circle class="c0" cx="783.1" cy="267.0" r="9.2"/><circle class="c0" cx="634.1" cy="240.1" r="9.2"/><circle class="c0" cx="628.4" cy="250.5" r="9.2"/><circle class="c4" cx="621.0" cy="250.0" r="9.2"/><circle class="c1" cx="629.5" cy="243.1" r="9.2"/><circle class="c2" cx="519.6" cy="256.4" r="9.2"/><circle class="c2" cx="705.9" cy="264.7" r="9.2"/><circle class="c3" cx="695.5" cy="241.6" r="9.2"/><circle class="c7" cx="655.9" cy="230.0" r="9.2"/><circle class="c2" cx="699.0" cy="229.7" r="9.2"/><circle class="c7" cx="751.7" cy="267.1" r="9.2"/><circle class="c7" cx="638.0" cy="279.7" r="9.2"/><circle class="c4" cx="537.8" cy="251.4" r="9.2"/><circle class="c6" cx="592.3" cy="231.7" r="9.2"/><circle class="c6" cx="683.1" cy="225.8" r="9.2"/><circle class="c5" cx="686.3" cy="232.4" r="9.2"/><circle class="c2" cx="792.1" cy="252.2" r="9.2"/><circle class="c6" cx="828.5" cy="263.0" r="9.2"/><circle class="c4" cx="595.6" cy="261.6" r="9.2"/><circle class="c3" cx="721.1" cy="270.3" r="9.2"/><circle class="c0" cx="737.6" cy="233.5" r="9.2"/><circle class="c7" cx="798.3" cy="261.8" r="9.2"/><circle class="c3" cx="693.5" cy="276.3" r="9.2"/><circle class="c1" cx="555.9" cy="274.8" r="9.2"/><circle class="c4" cx="566.0" cy="241.9" r="9.2"/><circle class="c3" cx="705.6" cy="245.6" r="9.2"/><circle class="c4" cx="551.1" cy="264.1" r="9.2"/><circle class="c4" cx="555.3" cy="251.4" r="9.2"/><circle class="c0" cx="683.8" cy="234.2" r="9.2"/><circle class="c0" cx="740.6" cy="265.3" r="9.2"/><circle class="c7" cx="705.5" cy="254.7" r="9.2"/><circle class="c2" cx="883.0" cy="259.4" r="9.2"/><circle class="c0" cx="698.4" cy="276.0" r="9.2"/><circle class="c4" cx="574.9" cy="269.6" r="9.2"/><circle class="c7" cx="728.6" cy="229.8" r="9.2"/><circle class="c1" cx="465.1" cy="259.2" r="9.2"/><circle class="c6" cx="772.7" cy="251.3" r="9.2"/><circle class="c6" cx="558.3" cy="262.9" r="9.2"/><circle class="c7" cx="726.9" cy="281.9" r="9.2"/><circle class="c1" cx="546.9" cy="247.3" r="9.2"/><circle class="c7" cx="690.7" cy="289.6" r="9.2"/><circle class="c4" cx="613.2" cy="267.1" r="9.2"/><circle class="c5" cx="704.3" cy="237.4" r="9.2"/><circle class="c3" cx="691.6" cy="241.1" r="9.2"/><circle class="c3" cx="748.1" cy="264.2" r="9.2"/><circle class="c0" cx="612.4" cy="249.3" r="9.2"/><circle class="c6" cx="724.7" cy="246.4" r="9.2"/><circle class="c2" cx="715.5" cy="256.6" r="9.2"/><circle class="c1" cx="615.5" cy="249.6" r="9.2"/><circle class="c7" cx="654.2" cy="267.3" r="9.2"/><circle class="c0" cx="663.2" cy="244.7" r="9.2"/><circle class="c3" cx="678.2" cy="253.6" r="9.2"/><circle class="c18" cx="901.3" cy="258.6" r="9.2"/><circle class="c19" cx="922.6" cy="258.6" r="9.2"/><circle class="c20" cx="928.8" cy="258.6" r="9.2"/><circle class="c19" cx="939.4" cy="258.6" r="9.2"/><circle class="c21" cx="591.7" cy="442.3" r="9.2"/><circle class="c0" cx="691.1" cy="418.7" r="9.2"/><circle class="c4" cx="764.0" cy="453.0" r="9.2"/><circle class="c6" cx="791.2" cy="450.3" r="9.2"/><circle class="c1" cx="688.2" cy="465.9" r="9.2"/><circle class="c7" cx="634.6" cy="464.8" r="9.2"/><circle class="c0" cx="637.2" cy="443.6" r="9.2"/><circle class="c1" cx="682.5" cy="439.7" r="9.2"/><circle class="c5" cx="682.4" cy="468.2" r="9.2"/><circle class="c21" cx="652.3" cy="461.5" r="9.2"/><circle class="c21" cx="700.4" cy="432.1" r="9.2"/><circle class="c3" cx="609.9" cy="439.9" r="9.2"/><circle class="c3" cx="764.0" cy="445.5" r="9.2"/><circle class="c6" cx="600.8" cy="457.0" r="9.2"/><circle class="c6" cx="773.1" cy="451.6" r="9.2"/><circle class="c5" cx="673.3" cy="485.2" r="9.2"/><circle class="c1" cx="695.4" cy="422.4" r="9.2"/><circle class="c4" cx="618.8" cy="452.2" r="9.2"/><circle class="c21" cx="656.8" cy="424.5" r="9.2"/><circle class="c1" cx="664.3" cy="415.7" r="9.2"/><circle class="c1" cx="757.0" cy="446.8" r="9.2"/><circle class="c6" cx="782.2" cy="450.6" r="9.2"/><circle class="c21" cx="695.8" cy="437.9" r="9.2"/><circle class="c1" cx="709.6" cy="468.9" r="9.2"/><circle class="c3" cx="662.0" cy="439.4" r="9.2"/><circle class="c0" cx="682.5" cy="468.6" r="9.2"/><circle class="c17" cx="691.5" cy="416.3" r="9.2"/><circle class="c21" cx="662.2" cy="421.2" r="9.2"/><circle class="c1" cx="649.9" cy="442.3" r="9.2"/><circle class="c5" cx="674.3" cy="458.9" r="9.2"/><circle class="c17" cx="700.5" cy="420.1" r="9.2"/><circle class="c1" cx="687.9" cy="459.7" r="9.2"/><circle class="c5" cx="755.0" cy="454.8" r="9.2"/><circle class="c4" cx="791.2" cy="448.5" r="9.2"/><circle class="c17" cx="800.3" cy="449.9" r="9.2"/><circle class="c1" cx="473.8" cy="449.9" r="9.2"/><circle class="c1" cx="624.1" cy="441.1" r="9.2"/><circle class="c21" cx="582.7" cy="454.3" r="9.2"/><circle class="c1" cx="590.2" cy="452.4" r="9.2"/><circle class="c2" cx="710.8" cy="451.4" r="9.2"/><circle class="c21" cx="700.1" cy="445.3" r="9.2"/><circle class="c4" cx="600.8" cy="441.4" r="9.2"/><circle class="c2" cx="664.8" cy="442.8" r="9.2"/><circle class="c21" cx="716.3" cy="452.5" r="9.2"/><circle class="c17" cx="679.5" cy="469.5" r="9.2"/><circle class="c0" cx="680.6" cy="433.9" r="9.2"/><circle class="c2" cx="693.8" cy="480.6" r="9.2"/><circle class="c6" cx="755.0" cy="443.2" r="9.2"/><circle class="c3" cx="614.6" cy="455.2" r="9.2"/><circle class="c1" cx="727.7" cy="461.9" r="9.2"/><circle class="c21" cx="680.6" cy="440.8" r="9.2"/><circle class="c7" cx="641.8" cy="429.0" r="9.2"/><circle class="c1" cx="696.2" cy="447.1" r="9.2"/><circle class="c21" cx="696.7" cy="456.5" r="9.2"/><circle class="c21" cx="644.9" cy="471.9" r="9.2"/><circle class="c3" cx="663.9" cy="472.8" r="9.2"/><circle class="c1" cx="745.9" cy="456.6" r="9.2"/><circle class="c4" cx="610.7" cy="439.7" r="9.2"/><circle class="c1" cx="573.6" cy="444.9" r="9.2"/><circle class="c3" cx="694.6" cy="456.5" r="9.2"/><circle class="c21" cx="682.4" cy="484.3" r="9.2"/><circle class="c0" cx="696.2" cy="457.4" r="9.2"/><circle class="c1" cx="671.3" cy="435.2" r="9.2"/><circle class="c3" cx="641.1" cy="441.1" r="9.2"/><circle class="c21" cx="644.5" cy="463.5" r="9.2"/><circle class="c2" cx="719.9" cy="453.1" r="9.2"/><circle class="c3" cx="613.9" cy="450.1" r="9.2"/><circle class="c0" cx="700.5" cy="477.5" r="9.2"/><circle class="c1" cx="691.5" cy="481.7" r="9.2"/><circle class="c5" cx="725.4" cy="462.8" r="9.2"/><circle class="c2" cx="674.3" cy="448.1" r="9.2"/><circle class="c21" cx="673.3" cy="414.3" r="9.2"/><circle class="c1" cx="537.3" cy="450.7" r="9.2"/><circle class="c6" cx="736.8" cy="458.4" r="9.2"/><circle class="c1" cx="464.8" cy="449.8" r="9.2"/><circle class="c1" cx="683.3" cy="439.5" r="9.2"/><circle class="c21" cx="660.4" cy="425.5" r="9.2"/><circle class="c1" cx="645.1" cy="426.2" r="9.2"/><circle class="c21" cx="656.2" cy="450.3" r="9.2"/><circle class="c21" cx="673.8" cy="448.8" r="9.2"/><circle class="c1" cx="519.2" cy="449.4" r="9.2"/><circle class="c5" cx="646.1" cy="472.5" r="9.2"/><circle class="c2" cx="691.4" cy="473.9" r="9.2"/><circle class="c0" cx="685.6" cy="415.8" r="9.2"/><circle class="c2" cx="699.0" cy="432.0" r="9.2"/><circle class="c1" cx="546.4" cy="450.8" r="9.2"/><circle class="c6" cx="818.4" cy="449.2" r="9.2"/><circle class="c0" cx="501.0" cy="449.7" r="9.2"/><circle class="c0" cx="706.8" cy="434.4" r="9.2"/><circle class="c3" cx="694.9" cy="466.5" r="9.2"/><circle class="c5" cx="743.7" cy="456.7" r="9.2"/><circle class="c6" cx="582.7" cy="443.5" r="9.2"/><circle class="c4" cx="727.7" cy="436.6" r="9.2"/><circle class="c7" cx="636.3" cy="434.8" r="9.2"/><circle class="c1" cx="702.1" cy="446.9" r="9.2"/><circle class="c3" cx="591.7" cy="455.7" r="9.2"/><circle class="c1" cx="573.6" cy="453.0" r="9.2"/><circle class="c3" cx="745.9" cy="440.8" r="9.2"/><circle class="c21" cx="632.8" cy="450.5" r="9.2"/><circle class="c7" cx="655.2" cy="477.3" r="9.2"/><circle class="c1" cx="564.5" cy="452.1" r="9.2"/><circle class="c1" cx="639.7" cy="438.6" r="9.2"/><circle class="c2" cx="555.5" cy="447.6" r="9.2"/><circle class="c3" cx="621.4" cy="444.3" r="9.2"/><circle class="c4" cx="600.7" cy="455.9" r="9.2"/><circle class="c4" cx="618.9" cy="437.7" r="9.2"/><circle class="c2" cx="667.1" cy="416.9" r="9.2"/><circle class="c21" cx="657.8" cy="431.4" r="9.2"/><circle class="c3" cx="555.5" cy="451.3" r="9.2"/><circle class="c5" cx="691.2" cy="463.3" r="9.2"/><circle class="c21" cx="711.5" cy="459.9" r="9.2"/><circle class="c21" cx="689.5" cy="478.4" r="9.2"/><circle class="c21" cx="718.7" cy="464.7" r="9.2"/><circle class="c0" cx="674.7" cy="449.5" r="9.2"/><circle class="c6" cx="736.8" cy="438.0" r="9.2"/><circle class="c7" cx="692.7" cy="427.0" r="9.2"/><circle class="c2" cx="674.8" cy="424.9" r="9.2"/><circle class="c21" cx="685.9" cy="459.8" r="9.2"/><circle class="c21" cx="671.2" cy="465.4" r="9.2"/><circle class="c0" cx="702.3" cy="421.4" r="9.2"/><circle class="c2" cx="640.7" cy="458.4" r="9.2"/><circle class="c3" cx="733.6" cy="458.5" r="9.2"/><circle class="c2" cx="651.8" cy="424.8" r="9.2"/><circle class="c4" cx="729.6" cy="445.9" r="9.2"/><circle class="c4" cx="618.9" cy="460.8" r="9.2"/><circle class="c21" cx="633.9" cy="463.5" r="9.2"/><circle class="c1" cx="528.2" cy="449.3" r="9.2"/><circle class="c0" cx="546.4" cy="448.9" r="9.2"/><circle class="c2" cx="656.0" cy="432.3" r="9.2"/><circle class="c21" cx="704.1" cy="454.2" r="9.2"/><circle class="c6" cx="618.9" cy="456.6" r="9.2"/><circle class="c21" cx="670.9" cy="418.5" r="9.2"/><circle class="c1" cx="726.3" cy="439.1" r="9.2"/><circle class="c1" cx="682.4" cy="414.5" r="9.2"/><circle class="c17" cx="655.2" cy="420.6" r="9.2"/><circle class="c6" cx="606.4" cy="448.7" r="9.2"/><circle class="c2" cx="659.5" cy="421.6" r="9.2"/><circle class="c1" cx="703.5" cy="443.5" r="9.2"/><circle class="c21" cx="652.4" cy="440.4" r="9.2"/><circle class="c5" cx="746.6" cy="447.6" r="9.2"/><circle class="c4" cx="601.0" cy="456.0" r="9.2"/><circle class="c21" cx="564.5" cy="446.2" r="9.2"/><circle class="c1" cx="659.8" cy="437.2" r="9.2"/><circle class="c21" cx="752.6" cy="455.1" r="9.2"/><circle class="c1" cx="718.7" cy="435.2" r="9.2"/><circle class="c5" cx="733.7" cy="452.0" r="9.2"/><circle class="c2" cx="704.0" cy="455.0" r="9.2"/><circle class="c1" cx="643.0" cy="441.7" r="9.2"/><circle class="c2" cx="663.0" cy="481.0" r="9.2"/><circle class="c7" cx="683.0" cy="460.8" r="9.2"/><circle class="c17" cx="690.0" cy="450.4" r="9.2"/><circle class="c3" cx="657.7" cy="472.6" r="9.2"/><circle class="c21" cx="722.5" cy="452.5" r="9.2"/><circle class="c21" cx="709.6" cy="429.9" r="9.2"/><circle class="c21" cx="673.0" cy="442.7" r="9.2"/><circle class="c3" cx="609.9" cy="458.6" r="9.2"/><circle class="c17" cx="662.0" cy="455.7" r="9.2"/><circle class="c21" cx="677.3" cy="482.0" r="9.2"/><circle class="c17" cx="782.2" cy="447.9" r="9.2"/><circle class="c2" cx="455.7" cy="449.8" r="9.2"/><circle class="c21" cx="718.0" cy="459.3" r="9.2"/><circle class="c1" cx="637.1" cy="468.0" r="9.2"/><circle class="c3" cx="684.7" cy="434.8" r="9.2"/><circle class="c3" cx="639.9" cy="456.2" r="9.2"/><circle class="c1" cx="635.4" cy="442.5" r="9.2"/><circle class="c5" cx="661.0" cy="452.1" r="9.2"/><circle class="c0" cx="510.1" cy="449.6" r="9.2"/><circle class="c21" cx="674.9" cy="484.9" r="9.2"/><circle class="c21" cx="706.9" cy="439.2" r="9.2"/><circle class="c5" cx="686.5" cy="439.0" r="9.2"/><circle class="c5" cx="630.0" cy="435.2" r="9.2"/><circle class="c0" cx="716.7" cy="461.3" r="9.2"/><circle class="c17" cx="827.5" cy="449.5" r="9.2"/><circle class="c21" cx="594.9" cy="442.4" r="9.2"/><circle class="c1" cx="637.1" cy="430.5" r="9.2"/><circle class="c2" cx="492.0" cy="449.8" r="9.2"/><circle class="c17" cx="628.0" cy="434.6" r="9.2"/><circle class="c2" cx="686.7" cy="432.3" r="9.2"/><circle class="c21" cx="691.7" cy="462.0" r="9.2"/><circle class="c1" cx="671.1" cy="421.9" r="9.2"/><circle class="c17" cx="713.5" cy="446.0" r="9.2"/><circle class="c21" cx="688.1" cy="447.0" r="9.2"/><circle class="c21" cx="666.5" cy="446.3" r="9.2"/><circle class="c21" cx="742.9" cy="457.2" r="9.2"/><circle class="c4" cx="583.9" cy="450.2" r="9.2"/><circle class="c3" cx="710.7" cy="431.8" r="9.2"/><circle class="c0" cx="664.3" cy="482.8" r="9.2"/><circle class="c5" cx="800.3" cy="448.8" r="9.2"/><circle class="c2" cx="670.1" cy="455.9" r="9.2"/><circle class="c3" cx="717.3" cy="452.8" r="9.2"/><circle class="c2" cx="528.2" cy="450.5" r="9.2"/><circle class="c1" cx="667.2" cy="461.5" r="9.2"/><circle class="c6" cx="737.0" cy="450.2" r="9.2"/><circle class="c4" cx="809.4" cy="449.0" r="9.2"/><circle class="c0" cx="674.2" cy="420.5" r="9.2"/><circle class="c3" cx="671.3" cy="483.2" r="9.2"/><circle class="c21" cx="658.6" cy="427.1" r="9.2"/><circle class="c0" cx="482.9" cy="449.9" r="9.2"/><circle class="c0" cx="644.5" cy="440.7" r="9.2"/><circle class="c0" cx="646.1" cy="425.6" r="9.2"/><circle class="c4" cx="732.8" cy="442.5" r="9.2"/><circle class="c1" cx="537.3" cy="449.1" r="9.2"/><circle class="c1" cx="594.5" cy="452.1" r="9.2"/><circle class="c5" cx="773.1" cy="446.9" r="9.2"/><circle class="c5" cx="661.4" cy="466.9" r="9.2"/><circle class="c21" cx="692.8" cy="439.3" r="9.2"/><circle class="c2" cx="693.5" cy="459.2" r="9.2"/><circle class="c4" cx="628.0" cy="463.9" r="9.2"/><circle class="c1" cx="427.3" cy="449.6" r="9.2"/><circle class="c4" cx="815.0" cy="449.6" r="9.2"/><circle class="c22" cx="804.0" cy="449.6" r="9.2"/><circle class="c23" cx="827.5" cy="449.6" r="9.2"/><circle class="c2" cx="672.3" cy="550.6" r="9.2"/><circle class="c3" cx="720.2" cy="535.1" r="9.2"/><circle class="c3" cx="687.0" cy="568.6" r="9.2"/><circle class="c6" cx="711.5" cy="538.1" r="9.2"/><circle class="c0" cx="676.6" cy="521.4" r="9.2"/><circle class="c3" cx="684.0" cy="563.3" r="9.2"/><circle class="c7" cx="810.0" cy="545.1" r="9.2"/><circle class="c2" cx="596.9" cy="542.8" r="9.2"/><circle class="c2" cx="614.2" cy="551.4" r="9.2"/><circle class="c8" cx="641.7" cy="568.0" r="9.2"/><circle class="c1" cx="602.7" cy="548.6" r="9.2"/><circle class="c0" cx="673.0" cy="521.1" r="9.2"/><circle class="c2" cx="656.7" cy="531.9" r="9.2"/><circle class="c2" cx="662.5" cy="541.2" r="9.2"/><circle class="c0" cx="792.0" cy="545.8" r="9.2"/><circle class="c3" cx="683.7" cy="571.8" r="9.2"/><circle class="c1" cx="578.9" cy="544.6" r="9.2"/><circle class="c1" cx="662.1" cy="532.4" r="9.2"/><circle class="c7" cx="660.3" cy="537.8" r="9.2"/><circle class="c3" cx="693.2" cy="510.7" r="9.2"/><circle class="c1" cx="605.1" cy="544.8" r="9.2"/><circle class="c2" cx="652.0" cy="553.3" r="9.2"/><circle class="c1" cx="639.3" cy="521.3" r="9.2"/><circle class="c7" cx="712.6" cy="527.3" r="9.2"/><circle class="c1" cx="608.5" cy="536.5" r="9.2"/><circle class="c2" cx="652.0" cy="568.6" r="9.2"/><circle class="c3" cx="706.5" cy="537.3" r="9.2"/><circle class="c2" cx="653.8" cy="525.9" r="9.2"/><circle class="c17" cx="678.3" cy="561.8" r="9.2"/><circle class="c1" cx="630.7" cy="560.7" r="9.2"/><circle class="c17" cx="747.1" cy="546.9" r="9.2"/><circle class="c7" cx="637.8" cy="550.4" r="9.2"/><circle class="c7" cx="681.3" cy="517.1" r="9.2"/><circle class="c3" cx="694.2" cy="543.5" r="9.2"/><circle class="c6" cx="765.1" cy="542.6" r="9.2"/><circle class="c0" cx="635.2" cy="557.8" r="9.2"/><circle class="c0" cx="756.1" cy="542.1" r="9.2"/><circle class="c8" cx="792.0" cy="544.0" r="9.2"/><circle class="c1" cx="522.5" cy="545.0" r="9.2"/><circle class="c2" cx="540.5" cy="544.1" r="9.2"/><circle class="c0" cx="658.5" cy="564.5" r="9.2"/><circle class="c7" cx="675.2" cy="543.4" r="9.2"/><circle class="c7" cx="540.5" cy="545.8" r="9.2"/><circle class="c17" cx="705.9" cy="559.6" r="9.2"/><circle class="c0" cx="635.1" cy="554.0" r="9.2"/><circle class="c7" cx="621.3" cy="525.3" r="9.2"/><circle class="c1" cx="567.4" cy="540.8" r="9.2"/><circle class="c8" cx="765.1" cy="547.3" r="9.2"/><circle class="c2" cx="622.3" cy="560.3" r="9.2"/><circle class="c2" cx="664.9" cy="549.7" r="9.2"/><circle class="c2" cx="576.4" cy="550.0" r="9.2"/><circle class="c3" cx="735.9" cy="547.9" r="9.2"/><circle class="c24" cx="801.0" cy="544.4" r="9.2"/><circle class="c0" cx="774.1" cy="547.1" r="9.2"/><circle class="c6" cx="740.8" cy="544.7" r="9.2"/><circle class="c3" cx="715.8" cy="551.2" r="9.2"/><circle class="c0" cx="679.6" cy="570.6" r="9.2"/><circle class="c7" cx="695.9" cy="575.9" r="9.2"/><circle class="c2" cx="682.6" cy="577.1" r="9.2"/><circle class="c7" cx="689.5" cy="535.4" r="9.2"/><circle class="c1" cx="670.3" cy="550.6" r="9.2"/><circle class="c2" cx="630.3" cy="556.7" r="9.2"/><circle class="c2" cx="670.4" cy="560.2" r="9.2"/><circle class="c6" cx="674.9" cy="535.8" r="9.2"/><circle class="c7" cx="721.5" cy="530.2" r="9.2"/><circle class="c0" cx="655.3" cy="537.4" r="9.2"/><circle class="c1" cx="666.2" cy="516.4" r="9.2"/><circle class="c0" cx="612.3" cy="556.6" r="9.2"/><circle class="c3" cx="720.2" cy="523.8" r="9.2"/><circle class="c7" cx="720.2" cy="562.0" r="9.2"/><circle class="c3" cx="683.0" cy="518.6" r="9.2"/><circle class="c1" cx="594.4" cy="537.5" r="9.2"/><circle class="c0" cx="605.9" cy="550.7" r="9.2"/><circle class="c7" cx="651.5" cy="542.3" r="9.2"/><circle class="c6" cx="622.9" cy="532.7" r="9.2"/><circle class="c2" cx="722.0" cy="530.3" r="9.2"/><circle class="c7" cx="698.2" cy="517.5" r="9.2"/><circle class="c1" cx="612.3" cy="529.8" r="9.2"/><circle class="c0" cx="614.3" cy="530.5" r="9.2"/><circle class="c6" cx="616.5" cy="553.2" r="9.2"/><circle class="c7" cx="636.5" cy="527.2" r="9.2"/><circle class="c1" cx="585.4" cy="550.9" r="9.2"/><circle class="c2" cx="549.4" cy="543.1" r="9.2"/><circle class="c6" cx="643.1" cy="556.7" r="9.2"/><circle class="c3" cx="689.7" cy="533.6" r="9.2"/><circle class="c7" cx="688.5" cy="518.7" r="9.2"/><circle class="c3" cx="731.6" cy="547.6" r="9.2"/><circle class="c7" cx="626.1" cy="561.0" r="9.2"/><circle class="c2" cx="675.2" cy="575.4" r="9.2"/><circle class="c7" cx="687.1" cy="557.4" r="9.2"/><circle class="c2" cx="674.3" cy="518.6" r="9.2"/><circle class="c8" cx="632.3" cy="536.0" r="9.2"/><circle class="c0" cx="711.2" cy="567.4" r="9.2"/><circle class="c7" cx="698.6" cy="522.2" r="9.2"/><circle class="c3" cx="689.3" cy="553.5" r="9.2"/><circle class="c0" cx="696.0" cy="522.2" r="9.2"/><circle class="c7" cx="649.3" cy="540.3" r="9.2"/><circle class="c2" cx="549.4" cy="546.8" r="9.2"/><circle class="c1" cx="587.0" cy="538.6" r="9.2"/><circle class="c7" cx="603.3" cy="553.8" r="9.2"/><circle class="c2" cx="643.1" cy="536.9" r="9.2"/><circle class="c2" cx="594.4" cy="551.8" r="9.2"/><circle class="c2" cx="708.3" cy="554.9" r="9.2"/><circle class="c6" cx="738.1" cy="551.4" r="9.2"/><circle class="c6" cx="630.3" cy="565.9" r="9.2"/><circle class="c7" cx="576.4" cy="539.7" r="9.2"/><circle class="c1" cx="629.9" cy="538.1" r="9.2"/><circle class="c7" cx="713.4" cy="524.9" r="9.2"/><circle class="c2" cx="691.8" cy="515.5" r="9.2"/><circle class="c1" cx="655.6" cy="544.3" r="9.2"/><circle class="c1" cx="619.6" cy="548.6" r="9.2"/><circle class="c17" cx="756.1" cy="547.1" r="9.2"/><circle class="c7" cx="567.4" cy="549.1" r="9.2"/><circle class="c3" cx="698.2" cy="514.8" r="9.2"/><circle class="c6" cx="683.6" cy="541.4" r="9.2"/><circle class="c2" cx="685.3" cy="574.2" r="9.2"/><circle class="c7" cx="681.8" cy="552.7" r="9.2"/><circle class="c0" cx="648.3" cy="569.5" r="9.2"/><circle class="c7" cx="686.1" cy="511.9" r="9.2"/><circle class="c2" cx="673.5" cy="516.3" r="9.2"/><circle class="c7" cx="688.4" cy="576.0" r="9.2"/><circle class="c1" cx="611.0" cy="552.5" r="9.2"/><circle class="c3" cx="738.1" cy="535.3" r="9.2"/><circle class="c3" cx="684.2" cy="578.7" r="9.2"/><circle class="c3" cx="701.8" cy="567.4" r="9.2"/><circle class="c7" cx="702.2" cy="572.7" r="9.2"/><circle class="c7" cx="695.3" cy="573.7" r="9.2"/><circle class="c0" cx="648.7" cy="559.5" r="9.2"/><circle class="c6" cx="731.3" cy="541.9" r="9.2"/><circle class="c7" cx="714.8" cy="526.0" r="9.2"/><circle class="c7" cx="657.3" cy="532.6" r="9.2"/><circle class="c7" cx="702.2" cy="514.8" r="9.2"/><circle class="c2" cx="648.5" cy="526.9" r="9.2"/><circle class="c7" cx="774.1" cy="543.1" r="9.2"/><circle class="c2" cx="660.4" cy="560.7" r="9.2"/><circle class="c6" cx="703.1" cy="527.7" r="9.2"/><circle class="c2" cx="666.2" cy="552.9" r="9.2"/><circle class="c1" cx="643.3" cy="523.3" r="9.2"/><circle class="c2" cx="693.2" cy="577.2" r="9.2"/><circle class="c1" cx="657.3" cy="570.7" r="9.2"/><circle class="c3" cx="711.2" cy="519.3" r="9.2"/><circle class="c2" cx="667.1" cy="564.7" r="9.2"/><circle class="c3" cx="695.5" cy="536.9" r="9.2"/><circle class="c8" cx="648.3" cy="520.2" r="9.2"/><circle class="c2" cx="729.1" cy="529.1" r="9.2"/><circle class="c7" cx="639.3" cy="568.1" r="9.2"/><circle class="c1" cx="661.3" cy="542.2" r="9.2"/><circle class="c8" cx="747.1" cy="541.1" r="9.2"/><circle class="c8" cx="719.8" cy="545.9" r="9.2"/><circle class="c7" cx="619.7" cy="530.5" r="9.2"/><circle class="c3" cx="700.9" cy="525.8" r="9.2"/><circle class="c1" cx="579.4" cy="547.9" r="9.2"/><circle class="c0" cx="693.2" cy="547.1" r="9.2"/><circle class="c2" cx="660.9" cy="567.1" r="9.2"/><circle class="c6" cx="721.0" cy="558.5" r="9.2"/><circle class="c0" cx="681.1" cy="515.7" r="9.2"/><circle class="c2" cx="650.9" cy="557.4" r="9.2"/><circle class="c7" cx="723.8" cy="551.3" r="9.2"/><circle class="c7" cx="643.0" cy="538.9" r="9.2"/><circle class="c17" cx="801.0" cy="545.4" r="9.2"/><circle class="c0" cx="729.1" cy="556.6" r="9.2"/><circle class="c1" cx="671.9" cy="552.0" r="9.2"/><circle class="c1" cx="650.4" cy="543.4" r="9.2"/><circle class="c6" cx="666.2" cy="571.6" r="9.2"/><circle class="c3" cx="675.2" cy="512.4" r="9.2"/><circle class="c6" cx="783.0" cy="546.4" r="9.2"/><circle class="c1" cx="601.7" cy="540.9" r="9.2"/><circle class="c0" cx="684.8" cy="573.0" r="9.2"/><circle class="c3" cx="686.4" cy="528.4" r="9.2"/><circle class="c1" cx="621.3" cy="562.0" r="9.2"/><circle class="c1" cx="592.3" cy="544.3" r="9.2"/><circle class="c8" cx="658.8" cy="543.2" r="9.2"/><circle class="c2" cx="513.5" cy="545.0" r="9.2"/><circle class="c2" cx="666.4" cy="538.4" r="9.2"/><circle class="c2" cx="603.3" cy="534.3" r="9.2"/><circle class="c8" cx="629.3" cy="523.7" r="9.2"/><circle class="c1" cx="531.5" cy="544.5" r="9.2"/><circle class="c7" cx="707.5" cy="537.8" r="9.2"/><circle class="c3" cx="684.2" cy="509.2" r="9.2"/><circle class="c1" cx="626.8" cy="548.1" r="9.2"/><circle class="c2" cx="585.4" cy="538.6" r="9.2"/><circle class="c7" cx="727.6" cy="547.0" r="9.2"/><circle class="c0" cx="648.7" cy="528.3" r="9.2"/><circle class="c1" cx="628.7" cy="548.6" r="9.2"/><circle class="c6" cx="703.1" cy="560.2" r="9.2"/><circle class="c3" cx="713.5" cy="555.3" r="9.2"/><circle class="c1" cx="558.4" cy="541.9" r="9.2"/><circle class="c17" cx="783.0" cy="543.5" r="9.2"/><circle class="c6" cx="657.3" cy="518.7" r="9.2"/><circle class="c7" cx="703.2" cy="528.8" r="9.2"/><circle class="c2" cx="638.3" cy="531.4" r="9.2"/><circle class="c0" cx="631.7" cy="543.7" r="9.2"/><circle class="c2" cx="558.4" cy="548.0" r="9.2"/><circle class="c0" cx="690.0" cy="559.3" r="9.2"/><circle class="c2" cx="687.2" cy="513.6" r="9.2"/><circle class="c8" cx="684.0" cy="572.3" r="9.2"/><circle class="c2" cx="630.3" cy="522.5" r="9.2"/><circle class="c0" cx="675.0" cy="525.8" r="9.2"/><circle class="c7" cx="727.3" cy="556.4" r="9.2"/><circle class="c2" cx="627.8" cy="549.9" r="9.2"/><circle class="c0" cx="700.8" cy="524.3" r="9.2"/><circle class="c3" cx="708.5" cy="546.2" r="9.2"/><circle class="c0" cx="716.4" cy="523.1" r="9.2"/><circle class="c8" cx="713.8" cy="521.4" r="9.2"/><circle class="c3" cx="736.5" cy="550.7" r="9.2"/><circle class="c25" cx="807.1" cy="545.1" r="9.2"/><circle class="c2" cx="670.6" cy="662.2" r="9.2"/><circle class="c8" cx="623.4" cy="635.0" r="9.2"/><circle class="c2" cx="632.5" cy="631.6" r="9.2"/><circle class="c5" cx="641.5" cy="653.4" r="9.2"/><circle class="c26" cx="669.5" cy="637.8" r="9.2"/><circle class="c8" cx="665.8" cy="633.5" r="9.2"/><circle class="c1" cx="648.4" cy="636.5" r="9.2"/><circle class="c24" cx="698.1" cy="633.1" r="9.2"/><circle class="c21" cx="659.6" cy="608.7" r="9.2"/><circle class="c8" cx="650.5" cy="661.0" r="9.2"/><circle class="c0" cx="666.3" cy="665.7" r="9.2"/><circle class="c5" cx="696.3" cy="644.6" r="9.2"/><circle class="c2" cx="672.0" cy="663.2" r="9.2"/><circle class="c5" cx="560.1" cy="640.2" r="9.2"/><circle class="c24" cx="703.9" cy="640.1" r="9.2"/><circle class="c5" cx="649.1" cy="642.2" r="9.2"/><circle class="c2" cx="660.8" cy="655.4" r="9.2"/><circle class="c1" cx="822.4" cy="640.0" r="9.2"/><circle class="c24" cx="650.5" cy="616.6" r="9.2"/><circle class="c5" cx="596.3" cy="641.0" r="9.2"/><circle class="c2" cx="662.4" cy="639.7" r="9.2"/><circle class="c24" cx="732.0" cy="637.3" r="9.2"/><circle class="c6" cx="624.4" cy="637.9" r="9.2"/><circle class="c24" cx="722.9" cy="635.5" r="9.2"/><circle class="c24" cx="713.9" cy="632.2" r="9.2"/><circle class="c1" cx="657.2" cy="635.6" r="9.2"/><circle class="c21" cx="704.8" cy="654.3" r="9.2"/><circle class="c17" cx="681.4" cy="625.2" r="9.2"/><circle class="c5" cx="578.2" cy="640.1" r="9.2"/><circle class="c24" cx="668.6" cy="674.8" r="9.2"/><circle class="c2" cx="641.5" cy="625.5" r="9.2"/><circle class="c24" cx="706.4" cy="637.3" r="9.2"/><circle class="c1" cx="658.3" cy="648.7" r="9.2"/><circle class="c26" cx="693.8" cy="626.5" r="9.2"/><circle class="c1" cx="858.6" cy="640.0" r="9.2"/><circle class="c5" cx="698.4" cy="624.5" r="9.2"/><circle class="c24" cx="682.1" cy="633.2" r="9.2"/><circle class="c21" cx="669.1" cy="616.0" r="9.2"/><circle class="c24" cx="687.1" cy="641.8" r="9.2"/><circle class="c26" cx="708.4" cy="650.6" r="9.2"/><circle class="c26" cx="741.0" cy="641.2" r="9.2"/><circle class="c17" cx="721.6" cy="635.3" r="9.2"/><circle class="c26" cx="759.1" cy="640.1" r="9.2"/><circle class="c2" cx="628.2" cy="642.2" r="9.2"/><circle class="c26" cx="710.0" cy="646.4" r="9.2"/><circle class="c5" cx="605.3" cy="641.6" r="9.2"/><circle class="c5" cx="551.0" cy="640.3" r="9.2"/><circle class="c5" cx="605.3" cy="638.2" r="9.2"/><circle class="c21" cx="680.5" cy="631.1" r="9.2"/><circle class="c17" cx="688.5" cy="661.1" r="9.2"/><circle class="c5" cx="636.6" cy="630.5" r="9.2"/><circle class="c0" cx="637.3" cy="628.9" r="9.2"/><circle class="c4" cx="813.4" cy="640.0" r="9.2"/><circle class="c8" cx="635.3" cy="640.4" r="9.2"/><circle class="c8" cx="667.6" cy="645.1" r="9.2"/><circle class="c21" cx="646.6" cy="623.4" r="9.2"/><circle class="c26" cx="680.8" cy="611.5" r="9.2"/><circle class="c5" cx="685.1" cy="635.6" r="9.2"/><circle class="c6" cx="587.2" cy="639.6" r="9.2"/><circle class="c6" cx="686.6" cy="622.9" r="9.2"/><circle class="c4" cx="750.1" cy="639.8" r="9.2"/><circle class="c4" cx="840.5" cy="640.0" r="9.2"/><circle class="c6" cx="686.7" cy="665.5" r="9.2"/><circle class="c21" cx="668.6" cy="604.5" r="9.2"/><circle class="c21" cx="651.9" cy="616.2" r="9.2"/><circle class="c26" cx="659.7" cy="623.4" r="9.2"/><circle class="c4" cx="831.5" cy="640.0" r="9.2"/><circle class="c1" cx="632.5" cy="648.0" r="9.2"/><circle class="c21" cx="663.4" cy="616.5" r="9.2"/><circle class="c26" cx="696.1" cy="636.7" r="9.2"/><circle class="c1" cx="659.8" cy="627.5" r="9.2"/><circle class="c6" cx="542.0" cy="640.3" r="9.2"/><circle class="c8" cx="649.5" cy="643.6" r="9.2"/><circle class="c26" cx="686.7" cy="616.5" r="9.2"/><circle class="c1" cx="777.2" cy="640.0" r="9.2"/><circle class="c21" cx="670.2" cy="613.3" r="9.2"/><circle class="c26" cx="669.8" cy="609.0" r="9.2"/><circle class="c26" cx="675.8" cy="631.8" r="9.2"/><circle class="c5" cx="623.4" cy="644.7" r="9.2"/><circle class="c8" cx="679.4" cy="646.3" r="9.2"/><circle class="c7" cx="614.4" cy="636.8" r="9.2"/><circle class="c26" cx="687.5" cy="628.9" r="9.2"/><circle class="c24" cx="668.8" cy="653.1" r="9.2"/><circle class="c0" cx="640.4" cy="627.0" r="9.2"/><circle class="c4" cx="786.2" cy="640.0" r="9.2"/><circle class="c1" cx="661.6" cy="653.5" r="9.2"/><circle class="c17" cx="673.9" cy="670.1" r="9.2"/><circle class="c1" cx="691.9" cy="622.8" r="9.2"/><circle class="c2" cx="643.0" cy="625.9" r="9.2"/><circle class="c17" cx="722.9" cy="644.3" r="9.2"/><circle class="c5" cx="674.0" cy="631.4" r="9.2"/><circle class="c6" cx="569.1" cy="640.2" r="9.2"/><circle class="c5" cx="691.7" cy="624.6" r="9.2"/><circle class="c0" cx="645.9" cy="657.2" r="9.2"/><circle class="c21" cx="686.5" cy="634.4" r="9.2"/><circle class="c5" cx="677.7" cy="672.5" r="9.2"/><circle class="c2" cx="695.8" cy="658.8" r="9.2"/><circle class="c21" cx="674.9" cy="608.3" r="9.2"/><circle class="c1" cx="849.6" cy="640.0" r="9.2"/><circle class="c24" cx="704.8" cy="627.7" r="9.2"/><circle class="c26" cx="677.7" cy="608.2" r="9.2"/><circle class="c26" cx="704.9" cy="631.5" r="9.2"/><circle class="c24" cx="676.2" cy="625.8" r="9.2"/><circle class="c26" cx="679.1" cy="621.8" r="9.2"/><circle class="c2" cx="660.1" cy="668.1" r="9.2"/><circle class="c17" cx="688.7" cy="659.9" r="9.2"/><circle class="c26" cx="665.0" cy="609.3" r="9.2"/><circle class="c21" cx="768.1" cy="640.0" r="9.2"/><circle class="c1" cx="648.1" cy="654.4" r="9.2"/><circle class="c17" cx="680.3" cy="661.1" r="9.2"/><circle class="c0" cx="650.6" cy="641.0" r="9.2"/><circle class="c2" cx="653.4" cy="645.6" r="9.2"/><circle class="c24" cx="695.8" cy="623.2" r="9.2"/><circle class="c5" cx="680.5" cy="643.5" r="9.2"/><circle class="c4" cx="795.3" cy="640.0" r="9.2"/><circle class="c2" cx="659.6" cy="667.7" r="9.2"/><circle class="c1" cx="804.3" cy="640.0" r="9.2"/><circle class="c1" cx="657.3" cy="628.8" r="9.2"/><circle class="c24" cx="713.9" cy="648.9" r="9.2"/><circle class="c17" cx="683.2" cy="667.9" r="9.2"/><circle class="c24" cx="672.4" cy="649.8" r="9.2"/><circle class="c2" cx="614.4" cy="642.4" r="9.2"/><circle class="c26" cx="682.0" cy="649.9" r="9.2"/><circle class="c0" cx="664.2" cy="655.7" r="9.2"/><circle class="c26" cx="741.0" cy="639.1" r="9.2"/><circle class="c26" cx="655.2" cy="622.4" r="9.2"/><circle class="c1" cx="676.5" cy="612.9" r="9.2"/><circle class="c6" cx="596.3" cy="639.2" r="9.2"/><circle class="c24" cx="732.0" cy="641.5" r="9.2"/><circle class="c24" cx="672.2" cy="605.8" r="9.2"/><circle class="c24" cx="738.0" cy="640.5" r="9.2"/><circle class="c4" cx="746.5" cy="640.6" r="9.2"/><circle class="c21" cx="757.0" cy="640.4" r="9.2"/><circle class="c26" cx="766.0" cy="640.4" r="9.2"/><circle class="c4" cx="776.0" cy="640.2" r="9.2"/></g>
<g><path fill="#F9BA20" d="M678.9 354.5C678.9 352.0 680.4 348.3 682.9 346.6C685.4 344.9 689.5 345.1 694.1 344.1C698.7 343.2 704.8 341.6 710.2 340.9C715.6 340.1 719.6 339.7 726.3 339.6C733.0 339.6 741.1 340.0 750.5 340.6C759.9 341.2 772.0 342.6 782.7 343.3C793.4 344.0 804.2 344.6 814.9 345.0C825.6 345.4 840.7 345.2 847.0 345.8C853.3 346.4 851.3 347.1 852.5 348.5C853.7 349.9 854.3 352.6 854.3 354.5C854.3 356.4 853.7 358.6 852.5 360.0C851.3 361.4 853.3 362.1 847.0 362.7C840.7 363.3 825.6 363.1 814.9 363.5C804.2 363.9 793.4 364.4 782.7 365.1C772.0 365.8 759.9 367.0 750.5 367.5C741.1 368.0 733.0 368.3 726.3 368.3C719.6 368.3 715.6 368.2 710.2 367.5C704.8 366.8 698.7 365.2 694.1 364.3C689.5 363.4 685.4 363.4 682.9 361.8C680.4 360.2 678.9 357.0 678.9 354.5Z"/><path fill="#5A1178" d="M546.4 354.3C546.4 352.8 546.9 351.1 547.6 349.8C548.4 348.5 549.6 347.2 550.9 346.5C552.2 345.8 551.6 345.6 555.4 345.4C559.2 345.2 566.8 345.6 573.6 345.3C580.4 345.0 589.5 344.4 596.0 343.7C602.5 343.0 608.7 342.5 612.8 341.4C616.9 340.3 618.2 339.1 620.6 337.0C623.0 334.9 625.2 332.1 627.3 329.1C629.4 326.1 631.1 321.8 633.0 319.0C634.9 316.2 636.3 314.1 638.5 312.3C640.7 310.5 643.8 308.9 646.4 308.4C649.0 307.9 651.8 308.5 654.2 309.5C656.6 310.5 659.0 311.9 661.0 314.6C663.0 317.3 664.6 321.9 666.5 325.8C668.4 329.7 670.2 333.2 672.1 338.0C674.0 342.8 677.0 350.9 677.7 354.5C678.5 358.1 677.7 356.4 676.6 359.3C675.5 362.2 672.9 367.4 671.0 371.7C669.1 376.0 667.6 380.8 665.4 385.1C663.2 389.4 660.2 395.0 657.6 397.4C655.0 399.8 652.1 399.7 649.7 399.7C647.3 399.7 645.4 398.9 643.0 397.4C640.6 395.9 637.8 393.5 635.2 390.7C632.6 387.9 630.1 383.8 627.3 380.6C624.5 377.4 621.8 374.1 618.4 371.7C615.0 369.3 612.8 367.3 607.2 366.0C601.6 364.7 593.4 364.3 584.8 363.8C576.2 363.3 561.0 363.5 555.4 363.2C549.8 362.9 552.2 362.8 550.9 362.1C549.6 361.4 548.4 360.1 547.6 358.8C546.9 357.5 546.4 355.8 546.4 354.3Z"/><circle class="c27" cx="873.6" cy="354.1" r="9.2"/><circle class="c27" cx="886.5" cy="354.1" r="9.2"/><circle class="c28" cx="555.5" cy="354.3" r="9.0"/><circle class="c28" cx="565.0" cy="354.3" r="9.0"/><circle class="c28" cx="575.0" cy="354.2" r="9.1"/><circle class="c27" cx="845.5" cy="354.3" r="9.0"/><circle class="c27" cx="835.0" cy="354.3" r="9.0"/></g>
<g><circle class="c7" cx="700.0" cy="735.7" r="9.2"/><circle class="c7" cx="705.6" cy="735.7" r="9.2"/><circle class="c7" cx="711.2" cy="735.7" r="9.2"/><circle class="c7" cx="716.8" cy="735.7" r="9.2"/><circle class="c7" cx="722.4" cy="735.7" r="9.2"/><circle class="c7" cx="728.0" cy="735.7" r="9.2"/><circle class="c7" cx="733.6" cy="735.7" r="9.2"/><circle class="c7" cx="739.2" cy="735.7" r="9.2"/><circle class="c3" cx="704.0" cy="735.2" r="9.2"/><circle class="c3" cx="711.0" cy="736.2" r="9.2"/><circle class="c29" cx="697.0" cy="735.7" r="9.2"/><circle class="c24" cx="673.2" cy="698.6" r="9.2"/><circle class="c24" cx="666.5" cy="712.0" r="9.2"/><circle class="c24" cx="679.5" cy="712.0" r="9.2"/><circle class="c6" cx="672.5" cy="773.2" r="9.2"/><circle class="c5" cx="669.0" cy="771.0" r="9.2"/><circle class="c6" cx="677.0" cy="771.0" r="9.2"/><circle class="c29" cx="678.0" cy="741.0" r="9.2"/><circle class="c29" cx="678.0" cy="737.0" r="9.2"/><circle class="c29" cx="667.5" cy="769.0" r="9.2"/><circle class="c29" cx="667.5" cy="761.0" r="9.2"/><circle class="c29" cx="667.5" cy="753.0" r="9.2"/><circle class="c29" cx="678.0" cy="745.0" r="9.2"/><circle class="c29" cx="667.5" cy="713.0" r="9.2"/><circle class="c29" cx="652.0" cy="731.5" r="9.2"/><circle class="c29" cx="678.0" cy="749.0" r="9.2"/><circle class="c29" cx="667.5" cy="749.0" r="9.2"/><circle class="c29" cx="678.0" cy="725.0" r="9.2"/><circle class="c29" cx="678.0" cy="705.0" r="9.2"/><circle class="c29" cx="678.0" cy="729.0" r="9.2"/><circle class="c29" cx="667.5" cy="733.0" r="9.2"/><circle class="c29" cx="672.5" cy="771.0" r="9.2"/><circle class="c29" cx="673.0" cy="701.2" r="9.2"/><circle class="c29" cx="678.0" cy="761.0" r="9.2"/><circle class="c29" cx="667.5" cy="709.0" r="9.2"/><circle class="c29" cx="678.0" cy="709.0" r="9.2"/><circle class="c29" cx="660.0" cy="735.7" r="9.2"/><circle class="c29" cx="667.5" cy="725.0" r="9.2"/><circle class="c29" cx="678.0" cy="753.0" r="9.2"/><circle class="c29" cx="693.0" cy="731.5" r="9.2"/><circle class="c29" cx="686.0" cy="735.7" r="9.2"/><circle class="c29" cx="667.5" cy="717.0" r="9.2"/><circle class="c29" cx="678.0" cy="713.0" r="9.2"/><circle class="c29" cx="678.0" cy="769.0" r="9.2"/><circle class="c29" cx="667.5" cy="757.0" r="9.2"/><circle class="c29" cx="678.0" cy="765.0" r="9.2"/><circle class="c29" cx="667.5" cy="721.0" r="9.2"/><circle class="c29" cx="678.0" cy="757.0" r="9.2"/><circle class="c29" cx="667.5" cy="705.0" r="9.2"/><circle class="c29" cx="678.0" cy="721.0" r="9.2"/><circle class="c29" cx="652.0" cy="740.0" r="9.2"/><circle class="c29" cx="667.5" cy="765.0" r="9.2"/><circle class="c29" cx="667.5" cy="741.0" r="9.2"/><circle class="c29" cx="678.0" cy="717.0" r="9.2"/><circle class="c29" cx="693.0" cy="740.0" r="9.2"/><circle class="c29" cx="678.0" cy="733.0" r="9.2"/><circle class="c29" cx="667.5" cy="729.0" r="9.2"/><circle class="c29" cx="667.5" cy="745.0" r="9.2"/><circle class="c29" cx="667.5" cy="737.0" r="9.2"/><circle class="c24" cx="657.0" cy="739.5" r="9.2"/><circle class="c29" cx="659.5" cy="736.0" r="9.2"/><circle class="c24" cx="685.0" cy="745.0" r="9.2"/><circle class="c29" cx="687.0" cy="741.5" r="9.2"/><circle class="c26" cx="668.0" cy="752.0" r="9.2"/><circle class="c29" cx="669.0" cy="750.0" r="9.2"/><circle class="c7" cx="673.8" cy="708.5" r="9.2"/><circle class="c24" cx="667.5" cy="721.3" r="9.2"/><circle class="c21" cx="684.5" cy="726.8" r="9.2"/><circle class="c29" cx="628.8" cy="735.7" r="9.2"/><circle class="c21" cx="636.0" cy="735.7" r="9.2"/><circle class="c21" cx="642.0" cy="734.5" r="9.2"/><circle class="c24" cx="648.0" cy="736.0" r="9.2"/><circle class="c29" cx="652.5" cy="737.0" r="9.2"/></g>
<g><rect x="670" y="821.8" width="108.0" height="18.4" rx="9.2" fill="#F9BA20"/><rect x="660.6" y="785.1" width="18.8" height="91.3" rx="9.4" fill="#5A1080"/><circle class="c29" cx="659.1" cy="831.0" r="9.2"/></g>
<g><rect x="631.6" y="917.0" width="40" height="18.6" rx="9.3" fill="#F9BA20"/><rect x="673" y="917.0" width="40.3" height="18.6" rx="9.3" fill="#5A1080"/><circle class="c27" cx="672.5" cy="889.5" r="9.2"/><circle class="c29" cx="671.0" cy="900.0" r="9.2"/><circle class="c27" cx="672.5" cy="898.0" r="9.2"/><circle class="c29" cx="672.0" cy="912.4" r="9.2"/><circle class="c27" cx="672.5" cy="905.0" r="9.2"/><circle class="c27" cx="673.5" cy="917.4" r="9.2"/><circle class="c29" cx="660.4" cy="923.5" r="9.2"/><circle class="c27" cx="663.0" cy="925.0" r="9.2"/><circle class="c27" cx="685.6" cy="927.5" r="9.2"/><circle class="c29" cx="674.5" cy="931.6" r="9.2"/><circle class="c29" cx="671.0" cy="944.0" r="9.2"/><circle class="c29" cx="674.0" cy="946.0" r="9.2"/><circle class="c27" cx="672.5" cy="942.0" r="9.2"/><circle class="c29" cx="670.5" cy="955.0" r="9.2"/><circle class="c29" cx="674.5" cy="957.0" r="9.2"/><circle class="c27" cx="672.5" cy="953.0" r="9.2"/><circle class="c29" cx="672.0" cy="965.5" r="9.2"/><circle class="c27" cx="672.5" cy="962.6" r="9.2"/></g>
<g stroke="#262626" stroke-width="4"><line x1="220" y1="68.6" x2="231" y2="68.6"/><line x1="220" y1="163.9" x2="231" y2="163.9"/><line x1="220" y1="259.2" x2="231" y2="259.2"/><line x1="220" y1="354.5" x2="231" y2="354.5"/><line x1="220" y1="449.8" x2="231" y2="449.8"/><line x1="220" y1="545.1" x2="231" y2="545.1"/><line x1="220" y1="640.4" x2="231" y2="640.4"/><line x1="220" y1="735.7" x2="231" y2="735.7"/><line x1="220" y1="831.0" x2="231" y2="831.0"/><line x1="220" y1="926.3" x2="231" y2="926.3"/><line x1="399.6" y1="983" x2="399.6" y2="994"/><line x1="672.2" y1="983" x2="672.2" y2="994"/><line x1="944.8" y1="983" x2="944.8" y2="994"/></g>
<text class="yl" x="210.5" y="80.6">VAT</text><text class="vl" transform="translate(1110.3,80.8) scale(1,1.065)">0.187</text><text class="yl" x="210.5" y="175.9">BMI</text><text class="vl" transform="translate(1110.3,176.1) scale(1,1.065)">0.120</text><text class="yl" x="210.5" y="271.2">SAT</text><text class="vl" transform="translate(1110.3,271.4) scale(1,1.065)">0.058</text><text class="yl" x="210.5" y="366.5">Hypertension</text><text class="vl" transform="translate(1110.3,366.7) scale(1,1.065)">0.040</text><text class="yl" x="210.5" y="461.8">PIR</text><text class="vl" transform="translate(1110.3,462.0) scale(1,1.065)">0.036</text><text class="yl" x="210.5" y="557.1">VSR</text><text class="vl" transform="translate(1110.3,557.3) scale(1,1.065)">0.036</text><text class="yl" x="210.5" y="652.4">Age</text><text class="vl" transform="translate(1110.3,652.6) scale(1,1.065)">0.022</text><text class="yl" x="210.5" y="747.7">Marital status</text><text class="vl" transform="translate(1110.3,747.9) scale(1,1.065)">0.008</text><text class="yl" x="210.5" y="843.0">Diabetes</text><text class="vl" transform="translate(1110.3,843.2) scale(1,1.065)">0.006</text><text class="yl" x="210.5" y="938.3">Gender</text><text class="vl" transform="translate(1110.3,938.5) scale(1,1.065)">0.003</text><text class="xl" x="399.6" y="1026.5">−0.25</text><text class="xl" x="672.2" y="1026.5">0.00</text><text class="xl" x="944.8" y="1026.5">0.25</text>
<defs><linearGradient id="g" x1="0" y1="1" x2="0" y2="0"><stop offset="0.000" stop-color="#570F6D"/><stop offset="0.083" stop-color="#6A176E"/><stop offset="0.167" stop-color="#7E1E6C"/><stop offset="0.250" stop-color="#932567"/><stop offset="0.333" stop-color="#A72D5F"/><stop offset="0.417" stop-color="#BB3754"/><stop offset="0.500" stop-color="#CC4148"/><stop offset="0.583" stop-color="#DC5039"/><stop offset="0.667" stop-color="#E9622A"/><stop offset="0.750" stop-color="#F37719"/><stop offset="0.833" stop-color="#F98E08"/><stop offset="0.917" stop-color="#FBA40A"/><stop offset="1.000" stop-color="#F9BB21"/></linearGradient></defs>
<rect x="1296" y="276.3" width="23" height="443" fill="url(#g)"/><rect x="1296" y="716.9" width="23" height="2.4" fill="#D9BDE3"/><rect x="1296" y="276.3" width="23" height="1.5" fill="#FCE7A0"/>
<text class="lg" x="1341" y="288.9">High</text>
<text class="lg" x="1340" y="730">Low</text>
<text class="tt" transform="translate(1275,496) rotate(-90) scale(1,1.06)" text-anchor="middle">Feature value</text>
<text class="tt" transform="translate(722,1076.4) scale(1,1.075)" text-anchor="middle">SHAP value</text>
</svg></body></html>
